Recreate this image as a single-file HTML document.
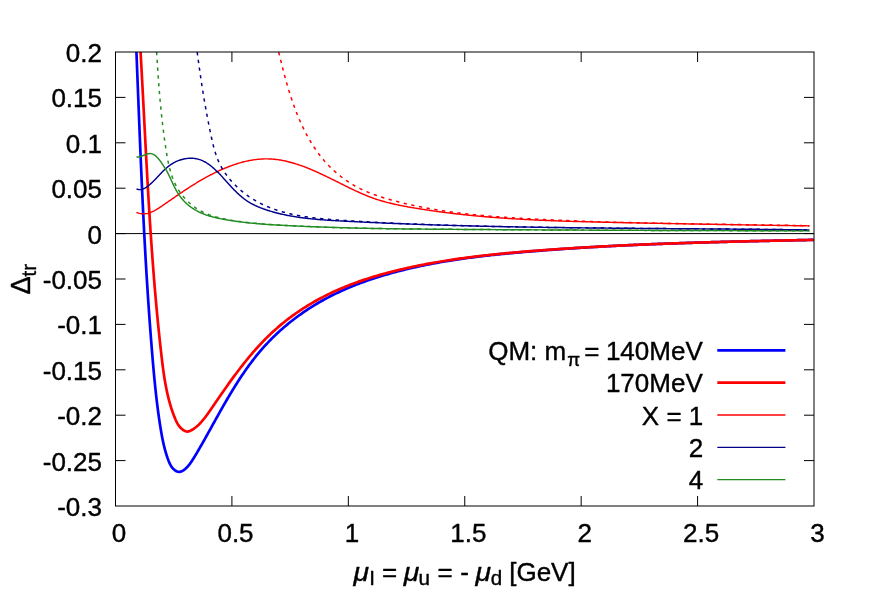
<!DOCTYPE html>
<html><head><meta charset="utf-8"><title>plot</title>
<style>html,body{margin:0;padding:0;background:#fff}body{width:872px;height:610px;position:relative;overflow:hidden;font-family:"Liberation Sans",sans-serif}</style>
</head><body>
<svg width="872" height="610" viewBox="0 0 872 610" style="position:absolute;left:0;top:0;will-change:transform">
<defs><clipPath id="c"><rect x="115.50" y="52.00" width="698.50" height="454.00"/></clipPath></defs>
<path d="M231.92,506.00 v-10 M231.92,52.00 v10 M348.33,506.00 v-10 M348.33,52.00 v10 M464.75,506.00 v-10 M464.75,52.00 v10 M581.17,506.00 v-10 M581.17,52.00 v10 M697.58,506.00 v-10 M697.58,52.00 v10 M115.50,97.40 h10 M814.00,97.40 h-10 M115.50,142.80 h10 M814.00,142.80 h-10 M115.50,188.20 h10 M814.00,188.20 h-10 M115.50,233.60 h10 M814.00,233.60 h-10 M115.50,279.00 h10 M814.00,279.00 h-10 M115.50,324.40 h10 M814.00,324.40 h-10 M115.50,369.80 h10 M814.00,369.80 h-10 M115.50,415.20 h10 M814.00,415.20 h-10 M115.50,460.60 h10 M814.00,460.60 h-10" stroke="#000" stroke-width="1" fill="none"/>
<path d="M115.50,233.60 H814.00" stroke="#000" stroke-width="1" fill="none"/>
<g clip-path="url(#c)" fill="none" stroke-linejoin="round">
<path d="M136.44,51.97 L136.50,53.62 L136.57,55.28 L136.64,56.93 L136.70,58.58 L136.77,60.24 L136.83,61.89 L136.90,63.54 L136.96,65.20 L137.03,66.85 L137.09,68.50 L137.16,70.15 L137.22,71.81 L137.29,73.46 L137.35,75.11 L137.42,76.76 L137.48,78.41 L137.55,80.07 L137.61,81.72 L137.68,83.37 L137.74,85.02 L137.81,86.67 L137.87,88.32 L137.94,89.97 L138.00,91.62 L138.07,93.27 L138.13,94.93 L138.20,96.58 L138.26,98.23 L138.33,99.88 L138.39,101.53 L138.46,103.18 L138.52,104.83 L138.59,106.48 L138.65,108.12 L138.72,109.77 L138.78,111.42 L138.85,113.07 L138.91,114.72 L138.98,116.37 L139.05,118.02 L139.11,119.67 L139.18,121.32 L139.24,122.97 L139.31,124.61 L139.38,126.26 L139.44,127.91 L139.51,129.56 L139.58,131.21 L139.64,132.85 L139.71,134.50 L139.78,136.15 L139.85,137.80 L139.91,139.45 L139.98,141.09 L140.05,142.74 L140.12,144.39 L140.19,146.03 L140.25,147.68 L140.32,149.33 L140.39,150.98 L140.46,152.62 L140.53,154.27 L140.60,155.92 L140.67,157.56 L140.74,159.21 L140.81,160.86 L140.88,162.50 L140.95,164.15 L141.02,165.80 L141.09,167.44 L141.17,169.09 L141.24,170.74 L141.31,172.38 L141.38,174.03 L141.45,175.67 L141.53,177.32 L141.60,178.97 L141.67,180.61 L141.75,182.26 L141.82,183.90 L141.90,185.55 L141.97,187.20 L142.05,188.84 L142.12,190.49 L142.20,192.13 L142.28,193.78 L142.35,195.42 L142.43,197.07 L142.51,198.72 L142.58,200.36 L142.66,202.01 L142.74,203.65 L142.82,205.30 L142.90,206.94 L142.98,208.59 L143.06,210.24 L143.14,211.88 L143.22,213.53 L143.30,215.17 L143.38,216.82 L143.47,218.46 L143.55,220.11 L143.63,221.75 L143.71,223.40 L143.80,225.04 L143.88,226.69 L143.97,228.34 L144.05,229.98 L144.14,231.63 L144.22,233.27 L144.31,234.92 L144.40,236.56 L144.49,238.21 L144.57,239.85 L144.66,241.50 L144.75,243.14 L144.84,244.79 L144.93,246.44 L145.02,248.08 L145.12,249.73 L145.21,251.37 L145.30,253.02 L145.39,254.66 L145.49,256.31 L145.58,257.96 L145.67,259.60 L145.77,261.25 L145.87,262.89 L145.96,264.54 L146.06,266.18 L146.16,267.83 L146.25,269.48 L146.35,271.12 L146.45,272.77 L146.55,274.42 L146.65,276.06 L146.75,277.71 L146.86,279.35 L146.96,281.00 L147.06,282.65 L147.17,284.29 L147.27,285.94 L147.38,287.59 L147.48,289.23 L147.59,290.88 L147.69,292.53 L147.80,294.17 L147.91,295.82 L148.02,297.47 L148.13,299.11 L148.24,300.76 L148.35,302.41 L148.46,304.06 L148.58,305.70 L148.69,307.35 L148.80,309.00 L148.92,310.65 L149.03,312.29 L149.15,313.94 L149.27,315.59 L149.39,317.24 L149.50,318.89 L149.62,320.53 L149.74,322.18 L149.86,323.83 L149.99,325.48 L150.11,327.13 L150.23,328.78 L150.36,330.43 L150.48,332.07 L150.61,333.72 L150.73,335.37 L150.86,337.02 L150.99,338.67 L151.12,340.32 L151.25,341.97 L151.38,343.62 L151.51,345.27 L151.64,346.92 L151.77,348.57 L151.91,350.22 L152.04,351.87 L152.18,353.52 L152.32,355.17 L152.45,356.82 L152.59,358.47 L152.73,360.12 L152.87,361.77 L153.01,363.42 L153.16,365.07 L153.30,366.72 L153.45,368.37 L153.60,370.02 L153.75,371.67 L153.90,373.32 L154.05,374.97 L154.20,376.62 L154.36,378.27 L154.52,379.91 L154.68,381.56 L154.85,383.20 L155.01,384.85 L155.18,386.49 L155.35,388.13 L155.52,389.78 L155.70,391.42 L155.88,393.06 L156.06,394.69 L156.24,396.33 L156.43,397.97 L156.62,399.60 L156.81,401.24 L157.01,402.87 L157.21,404.50 L157.41,406.13 L157.62,407.75 L157.83,409.38 L158.05,411.00 L158.26,412.63 L158.49,414.25 L158.71,415.87 L158.94,417.48 L159.18,419.10 L159.41,420.71 L159.66,422.32 L159.90,423.93 L160.15,425.54 L160.41,427.14 L160.67,428.74 L160.93,430.34 L161.20,431.94 L161.48,433.54 L161.77,435.13 L162.06,436.73 L162.37,438.32 L162.69,439.91 L163.02,441.51 L163.37,443.10 L163.73,444.70 L164.12,446.29 L164.51,447.89 L164.93,449.49 L165.37,451.09 L165.84,452.70 L166.32,454.30 L166.84,455.91 L167.37,457.53 L167.94,459.14 L168.54,460.76 L169.19,462.35 L169.91,463.90 L170.71,465.39 L171.61,466.81 L172.62,468.12 L173.76,469.33 L175.04,470.39 L176.43,471.22 L177.89,471.73 L179.38,471.83 L180.88,471.55 L182.36,470.95 L183.81,470.08 L185.20,469.02 L186.51,467.81 L187.72,466.53 L188.83,465.22 L189.84,463.88 L190.80,462.53 L191.72,461.16 L192.62,459.79 L193.50,458.41 L194.36,457.03 L195.22,455.64 L196.06,454.24 L196.90,452.83 L197.72,451.43 L198.55,450.01 L199.36,448.60 L200.18,447.18 L201.00,445.76 L201.81,444.34 L202.62,442.91 L203.43,441.48 L204.24,440.05 L205.04,438.62 L205.85,437.18 L206.65,435.75 L207.45,434.31 L208.25,432.87 L209.06,431.43 L209.86,429.99 L210.66,428.55 L211.46,427.10 L212.26,425.66 L213.06,424.21 L213.86,422.77 L214.66,421.32 L215.47,419.88 L216.27,418.43 L217.08,416.99 L217.88,415.54 L218.69,414.10 L219.50,412.65 L220.31,411.21 L221.12,409.77 L221.94,408.33 L222.76,406.89 L223.58,405.45 L224.40,404.01 L225.23,402.58 L226.06,401.15 L226.89,399.72 L227.72,398.29 L228.56,396.86 L229.41,395.44 L230.25,394.02 L231.10,392.60 L231.96,391.19 L232.82,389.77 L233.68,388.37 L234.55,386.96 L235.42,385.56 L236.30,384.16 L237.19,382.77 L238.08,381.38 L238.97,379.99 L239.87,378.61 L240.78,377.24 L241.69,375.86 L242.61,374.50 L243.54,373.14 L244.47,371.78 L245.41,370.43 L246.35,369.08 L247.31,367.74 L248.27,366.41 L249.23,365.08 L250.21,363.76 L251.19,362.44 L252.19,361.13 L253.18,359.83 L254.19,358.53 L255.21,357.24 L256.23,355.96 L257.27,354.68 L258.31,353.41 L259.36,352.15 L260.43,350.90 L261.50,349.65 L262.58,348.41 L263.67,347.18 L264.77,345.96 L265.88,344.75 L267.00,343.55 L268.13,342.35 L269.27,341.16 L270.42,339.98 L271.58,338.81 L272.75,337.65 L273.93,336.49 L275.11,335.35 L276.31,334.21 L277.51,333.08 L278.73,331.96 L279.95,330.85 L281.18,329.75 L282.42,328.66 L283.67,327.57 L284.92,326.50 L286.19,325.43 L287.46,324.38 L288.74,323.33 L290.03,322.29 L291.32,321.26 L292.63,320.24 L293.94,319.23 L295.26,318.23 L296.58,317.23 L297.91,316.25 L299.25,315.28 L300.60,314.31 L301.95,313.36 L303.31,312.41 L304.68,311.48 L306.05,310.55 L307.43,309.63 L308.82,308.73 L310.21,307.83 L311.61,306.94 L313.01,306.07 L314.42,305.20 L315.83,304.34 L317.26,303.49 L318.68,302.65 L320.11,301.83 L321.55,301.01 L322.99,300.20 L324.44,299.40 L325.89,298.62 L327.35,297.84 L328.81,297.07 L330.28,296.31 L331.75,295.57 L333.22,294.83 L334.70,294.10 L336.19,293.38 L337.67,292.67 L339.17,291.97 L340.66,291.28 L342.16,290.60 L343.67,289.92 L345.18,289.26 L346.69,288.60 L348.21,287.96 L349.73,287.32 L351.25,286.69 L352.78,286.07 L354.31,285.45 L355.84,284.85 L357.38,284.25 L358.92,283.66 L360.46,283.08 L362.01,282.51 L363.56,281.95 L365.11,281.39 L366.66,280.84 L368.22,280.30 L369.78,279.76 L371.34,279.23 L372.91,278.71 L374.47,278.20 L376.04,277.69 L377.61,277.20 L379.19,276.70 L380.76,276.22 L382.34,275.74 L383.92,275.26 L385.50,274.80 L387.08,274.34 L388.67,273.88 L390.25,273.44 L391.84,272.99 L393.43,272.56 L395.02,272.13 L396.61,271.71 L398.21,271.29 L399.80,270.88 L401.40,270.47 L402.99,270.07 L404.59,269.67 L406.19,269.28 L407.79,268.90 L409.39,268.52 L411.00,268.15 L412.60,267.78 L414.21,267.41 L415.82,267.06 L417.42,266.70 L419.03,266.36 L420.64,266.01 L422.26,265.68 L423.87,265.34 L425.48,265.01 L427.10,264.69 L428.71,264.37 L430.33,264.06 L431.95,263.75 L433.57,263.44 L435.19,263.14 L436.81,262.85 L438.43,262.56 L440.05,262.27 L441.68,261.99 L443.30,261.71 L444.93,261.43 L446.55,261.16 L448.18,260.90 L449.81,260.64 L451.44,260.38 L453.07,260.12 L454.70,259.87 L456.33,259.63 L457.96,259.38 L459.59,259.14 L461.23,258.91 L462.86,258.67 L464.50,258.44 L466.13,258.22 L467.77,258.00 L469.40,257.78 L471.04,257.56 L472.68,257.35 L474.32,257.14 L475.95,256.93 L477.59,256.73 L479.23,256.53 L480.87,256.33 L482.51,256.14 L484.16,255.94 L485.80,255.75 L487.44,255.57 L489.08,255.38 L490.72,255.20 L492.37,255.02 L494.01,254.85 L495.66,254.67 L497.30,254.50 L498.94,254.33 L500.59,254.16 L502.23,254.00 L503.88,253.83 L505.52,253.67 L507.17,253.51 L508.82,253.36 L510.46,253.20 L512.11,253.05 L513.75,252.90 L515.40,252.75 L517.05,252.60 L518.69,252.45 L520.34,252.30 L521.99,252.16 L523.63,252.02 L525.28,251.88 L526.93,251.74 L528.57,251.60 L530.22,251.46 L531.87,251.32 L533.51,251.19 L535.16,251.05 L536.81,250.92 L538.45,250.79 L540.10,250.66 L541.75,250.53 L543.39,250.40 L545.04,250.27 L546.69,250.15 L548.33,250.02 L549.98,249.90 L551.63,249.78 L553.27,249.66 L554.92,249.54 L556.57,249.42 L558.21,249.30 L559.86,249.19 L561.51,249.07 L563.15,248.96 L564.80,248.84 L566.45,248.73 L568.09,248.62 L569.74,248.51 L571.39,248.40 L573.03,248.29 L574.68,248.18 L576.33,248.08 L577.97,247.97 L579.62,247.87 L581.27,247.77 L582.91,247.67 L584.56,247.56 L586.21,247.47 L587.85,247.37 L589.50,247.27 L591.14,247.17 L592.79,247.08 L594.44,246.98 L596.08,246.89 L597.73,246.79 L599.38,246.70 L601.02,246.61 L602.67,246.52 L604.32,246.43 L605.96,246.34 L607.61,246.25 L609.26,246.17 L610.90,246.08 L612.55,246.00 L614.20,245.91 L615.85,245.83 L617.49,245.75 L619.14,245.67 L620.79,245.58 L622.43,245.50 L624.08,245.43 L625.73,245.35 L627.37,245.27 L629.02,245.19 L630.67,245.12 L632.31,245.04 L633.96,244.97 L635.61,244.89 L637.26,244.82 L638.90,244.75 L640.55,244.68 L642.20,244.61 L643.84,244.54 L645.49,244.47 L647.14,244.40 L648.79,244.33 L650.43,244.27 L652.08,244.20 L653.73,244.13 L655.37,244.07 L657.02,244.00 L658.67,243.94 L660.32,243.88 L661.96,243.82 L663.61,243.75 L665.26,243.69 L666.91,243.63 L668.55,243.57 L670.20,243.51 L671.85,243.45 L673.50,243.40 L675.14,243.34 L676.79,243.28 L678.44,243.23 L680.09,243.17 L681.74,243.12 L683.38,243.06 L685.03,243.01 L686.68,242.95 L688.33,242.90 L689.98,242.85 L691.62,242.80 L693.27,242.74 L694.92,242.69 L696.57,242.64 L698.22,242.59 L699.87,242.54 L701.51,242.49 L703.16,242.45 L704.81,242.40 L706.46,242.35 L708.11,242.30 L709.76,242.26 L711.40,242.21 L713.05,242.16 L714.70,242.12 L716.35,242.07 L718.00,242.03 L719.65,241.98 L721.30,241.94 L722.95,241.90 L724.60,241.85 L726.24,241.81 L727.89,241.77 L729.54,241.73 L731.19,241.68 L732.84,241.64 L734.49,241.60 L736.14,241.56 L737.79,241.52 L739.44,241.48 L741.09,241.44 L742.74,241.40 L744.39,241.36 L746.04,241.32 L747.69,241.28 L749.34,241.24 L750.99,241.21 L752.64,241.17 L754.29,241.13 L755.94,241.09 L757.59,241.05 L759.24,241.02 L760.89,240.98 L762.54,240.94 L764.19,240.91 L765.84,240.87 L767.49,240.83 L769.14,240.80 L770.79,240.76 L772.44,240.73 L774.09,240.69 L775.75,240.65 L777.40,240.62 L779.05,240.58 L780.70,240.55 L782.35,240.51 L784.00,240.48 L785.65,240.44 L787.30,240.41 L788.96,240.37 L790.61,240.34 L792.26,240.30 L793.91,240.27 L795.56,240.23 L797.21,240.20 L798.87,240.17 L800.52,240.13 L802.17,240.10 L803.82,240.06 L805.48,240.03 L807.13,239.99 L808.78,239.96 L810.43,239.92 L812.09,239.89 L813.74,239.86" stroke="#0000ff" stroke-width="2.7"/>
<path d="M140.56,52.02 L140.65,53.55 L140.74,55.09 L140.83,56.63 L140.91,58.17 L141.00,59.71 L141.08,61.25 L141.17,62.79 L141.26,64.33 L141.34,65.87 L141.43,67.40 L141.51,68.94 L141.59,70.48 L141.68,72.02 L141.76,73.56 L141.85,75.10 L141.93,76.64 L142.01,78.18 L142.10,79.72 L142.18,81.26 L142.26,82.80 L142.34,84.34 L142.43,85.88 L142.51,87.42 L142.59,88.96 L142.67,90.50 L142.75,92.04 L142.84,93.59 L142.92,95.13 L143.00,96.67 L143.08,98.21 L143.16,99.75 L143.24,101.29 L143.32,102.83 L143.40,104.37 L143.48,105.91 L143.56,107.45 L143.65,109.00 L143.73,110.54 L143.81,112.08 L143.89,113.62 L143.97,115.16 L144.05,116.70 L144.13,118.24 L144.21,119.79 L144.29,121.33 L144.37,122.87 L144.45,124.41 L144.53,125.95 L144.61,127.49 L144.69,129.04 L144.77,130.58 L144.85,132.12 L144.93,133.66 L145.02,135.20 L145.10,136.75 L145.18,138.29 L145.26,139.83 L145.34,141.37 L145.42,142.91 L145.50,144.46 L145.58,146.00 L145.67,147.54 L145.75,149.08 L145.83,150.63 L145.91,152.17 L146.00,153.71 L146.08,155.25 L146.16,156.79 L146.24,158.34 L146.33,159.88 L146.41,161.42 L146.50,162.96 L146.58,164.51 L146.66,166.05 L146.75,167.59 L146.83,169.13 L146.92,170.67 L147.00,172.22 L147.09,173.76 L147.17,175.30 L147.26,176.84 L147.35,178.39 L147.43,179.93 L147.52,181.47 L147.61,183.01 L147.70,184.56 L147.78,186.10 L147.87,187.64 L147.96,189.18 L148.05,190.72 L148.14,192.27 L148.23,193.81 L148.32,195.35 L148.41,196.89 L148.50,198.43 L148.59,199.98 L148.69,201.52 L148.78,203.06 L148.87,204.60 L148.97,206.14 L149.06,207.69 L149.15,209.23 L149.25,210.77 L149.34,212.31 L149.44,213.85 L149.54,215.39 L149.63,216.94 L149.73,218.48 L149.83,220.02 L149.93,221.56 L150.03,223.10 L150.12,224.64 L150.22,226.18 L150.33,227.73 L150.43,229.27 L150.53,230.81 L150.63,232.35 L150.73,233.89 L150.84,235.43 L150.94,236.97 L151.05,238.51 L151.15,240.05 L151.26,241.59 L151.36,243.13 L151.47,244.68 L151.58,246.22 L151.69,247.76 L151.80,249.30 L151.91,250.84 L152.02,252.38 L152.13,253.92 L152.24,255.46 L152.35,257.00 L152.47,258.54 L152.58,260.08 L152.70,261.62 L152.81,263.16 L152.93,264.70 L153.05,266.23 L153.17,267.77 L153.28,269.31 L153.40,270.85 L153.52,272.39 L153.65,273.93 L153.77,275.47 L153.89,277.01 L154.01,278.55 L154.14,280.08 L154.26,281.62 L154.39,283.16 L154.52,284.70 L154.65,286.24 L154.77,287.78 L154.90,289.31 L155.03,290.85 L155.17,292.39 L155.30,293.93 L155.43,295.46 L155.57,297.00 L155.70,298.54 L155.84,300.07 L155.98,301.61 L156.11,303.15 L156.25,304.69 L156.39,306.22 L156.53,307.76 L156.68,309.29 L156.82,310.83 L156.96,312.37 L157.11,313.90 L157.25,315.44 L157.40,316.97 L157.55,318.51 L157.70,320.04 L157.85,321.58 L158.00,323.11 L158.15,324.65 L158.31,326.18 L158.46,327.72 L158.62,329.25 L158.77,330.79 L158.93,332.32 L159.09,333.86 L159.25,335.39 L159.41,336.92 L159.57,338.46 L159.74,339.99 L159.90,341.52 L160.07,343.06 L160.23,344.59 L160.40,346.12 L160.57,347.65 L160.74,349.19 L160.91,350.72 L161.09,352.25 L161.26,353.78 L161.44,355.31 L161.61,356.84 L161.79,358.38 L161.97,359.91 L162.16,361.44 L162.34,362.97 L162.53,364.50 L162.73,366.03 L162.93,367.55 L163.13,369.08 L163.34,370.61 L163.55,372.13 L163.77,373.66 L163.99,375.18 L164.23,376.70 L164.46,378.22 L164.71,379.74 L164.97,381.26 L165.23,382.78 L165.50,384.29 L165.78,385.81 L166.07,387.32 L166.37,388.83 L166.68,390.34 L167.00,391.85 L167.34,393.35 L167.68,394.86 L168.04,396.36 L168.40,397.86 L168.78,399.35 L169.18,400.85 L169.59,402.34 L170.01,403.83 L170.45,405.32 L170.90,406.80 L171.36,408.28 L171.84,409.76 L172.34,411.24 L172.86,412.71 L173.39,414.18 L173.94,415.65 L174.50,417.12 L175.09,418.57 L175.71,420.02 L176.36,421.43 L177.07,422.81 L177.83,424.14 L178.67,425.42 L179.58,426.63 L180.57,427.76 L181.66,428.81 L182.86,429.76 L184.17,430.60 L185.57,431.25 L187.02,431.56 L188.46,431.43 L189.89,430.96 L191.27,430.29 L192.62,429.52 L193.93,428.68 L195.20,427.77 L196.43,426.79 L197.62,425.75 L198.78,424.67 L199.90,423.54 L200.99,422.37 L202.05,421.18 L203.07,419.97 L204.07,418.75 L205.04,417.52 L205.98,416.28 L206.91,415.04 L207.81,413.80 L208.69,412.56 L209.57,411.31 L210.43,410.06 L211.29,408.81 L212.14,407.56 L213.00,406.30 L213.85,405.05 L214.71,403.79 L215.56,402.53 L216.42,401.27 L217.29,400.01 L218.15,398.75 L219.02,397.49 L219.88,396.23 L220.76,394.97 L221.63,393.71 L222.50,392.45 L223.38,391.19 L224.26,389.93 L225.14,388.68 L226.03,387.42 L226.92,386.16 L227.81,384.91 L228.71,383.65 L229.61,382.40 L230.51,381.15 L231.41,379.90 L232.32,378.65 L233.23,377.41 L234.15,376.16 L235.07,374.92 L235.99,373.68 L236.92,372.45 L237.85,371.21 L238.79,369.98 L239.73,368.76 L240.67,367.53 L241.62,366.31 L242.57,365.10 L243.53,363.88 L244.50,362.67 L245.46,361.47 L246.44,360.27 L247.41,359.07 L248.40,357.88 L249.39,356.69 L250.38,355.50 L251.38,354.33 L252.38,353.15 L253.39,351.98 L254.41,350.82 L255.43,349.66 L256.46,348.51 L257.49,347.37 L258.53,346.22 L259.58,345.09 L260.63,343.96 L261.69,342.84 L262.75,341.73 L263.83,340.62 L264.90,339.51 L265.99,338.42 L267.08,337.33 L268.18,336.25 L269.29,335.18 L270.40,334.11 L271.52,333.06 L272.65,332.01 L273.78,330.96 L274.93,329.93 L276.08,328.90 L277.23,327.89 L278.40,326.88 L279.57,325.88 L280.75,324.89 L281.94,323.90 L283.14,322.93 L284.34,321.96 L285.55,321.00 L286.76,320.05 L287.99,319.11 L289.22,318.18 L290.45,317.25 L291.70,316.34 L292.95,315.43 L294.20,314.53 L295.46,313.64 L296.73,312.76 L298.01,311.88 L299.29,311.02 L300.57,310.16 L301.86,309.31 L303.16,308.47 L304.47,307.64 L305.77,306.81 L307.09,306.00 L308.41,305.19 L309.73,304.39 L311.06,303.60 L312.40,302.82 L313.74,302.04 L315.08,301.28 L316.43,300.52 L317.79,299.77 L319.15,299.03 L320.51,298.30 L321.88,297.58 L323.25,296.86 L324.63,296.16 L326.01,295.46 L327.39,294.77 L328.78,294.09 L330.17,293.41 L331.57,292.75 L332.97,292.09 L334.37,291.44 L335.78,290.80 L337.19,290.17 L338.60,289.55 L340.02,288.94 L341.44,288.33 L342.86,287.73 L344.29,287.14 L345.71,286.56 L347.15,285.98 L348.58,285.41 L350.02,284.85 L351.46,284.30 L352.90,283.75 L354.35,283.22 L355.80,282.69 L357.25,282.16 L358.70,281.64 L360.16,281.13 L361.61,280.63 L363.07,280.14 L364.54,279.65 L366.00,279.16 L367.47,278.69 L368.94,278.22 L370.41,277.75 L371.88,277.29 L373.36,276.84 L374.83,276.39 L376.31,275.95 L377.79,275.52 L379.28,275.09 L380.76,274.67 L382.25,274.25 L383.73,273.84 L385.22,273.43 L386.71,273.03 L388.20,272.64 L389.70,272.24 L391.19,271.86 L392.69,271.48 L394.18,271.10 L395.68,270.73 L397.18,270.36 L398.68,270.00 L400.18,269.64 L401.68,269.29 L403.18,268.94 L404.69,268.59 L406.19,268.25 L407.69,267.91 L409.20,267.58 L410.71,267.25 L412.21,266.92 L413.72,266.60 L415.23,266.29 L416.74,265.97 L418.25,265.67 L419.76,265.36 L421.27,265.06 L422.79,264.76 L424.30,264.47 L425.81,264.18 L427.33,263.89 L428.84,263.61 L430.36,263.33 L431.88,263.06 L433.40,262.78 L434.91,262.52 L436.43,262.25 L437.95,261.99 L439.47,261.73 L440.99,261.48 L442.51,261.23 L444.04,260.98 L445.56,260.73 L447.08,260.49 L448.61,260.25 L450.13,260.02 L451.66,259.79 L453.18,259.56 L454.71,259.33 L456.23,259.11 L457.76,258.89 L459.29,258.67 L460.82,258.46 L462.34,258.25 L463.87,258.04 L465.40,257.83 L466.93,257.63 L468.46,257.43 L469.99,257.23 L471.53,257.04 L473.06,256.85 L474.59,256.66 L476.12,256.47 L477.65,256.28 L479.19,256.10 L480.72,255.92 L482.26,255.74 L483.79,255.57 L485.33,255.39 L486.86,255.22 L488.40,255.06 L489.93,254.89 L491.47,254.72 L493.00,254.56 L494.54,254.40 L496.08,254.24 L497.61,254.09 L499.15,253.93 L500.69,253.78 L502.23,253.63 L503.77,253.48 L505.30,253.34 L506.84,253.19 L508.38,253.05 L509.92,252.91 L511.46,252.77 L513.00,252.63 L514.54,252.49 L516.08,252.36 L517.62,252.22 L519.16,252.09 L520.70,251.96 L522.24,251.83 L523.78,251.70 L525.32,251.58 L526.86,251.45 L528.40,251.33 L529.94,251.21 L531.48,251.08 L533.02,250.96 L534.56,250.84 L536.11,250.73 L537.65,250.61 L539.19,250.49 L540.73,250.38 L542.27,250.26 L543.81,250.15 L545.35,250.04 L546.89,249.92 L548.43,249.81 L549.97,249.70 L551.51,249.60 L553.06,249.49 L554.60,249.38 L556.14,249.27 L557.68,249.17 L559.22,249.06 L560.76,248.96 L562.30,248.86 L563.84,248.76 L565.38,248.65 L566.92,248.55 L568.47,248.46 L570.01,248.36 L571.55,248.26 L573.09,248.16 L574.63,248.07 L576.17,247.97 L577.71,247.88 L579.25,247.78 L580.79,247.69 L582.33,247.60 L583.87,247.51 L585.42,247.42 L586.96,247.33 L588.50,247.24 L590.04,247.15 L591.58,247.06 L593.12,246.98 L594.66,246.89 L596.20,246.81 L597.74,246.72 L599.29,246.64 L600.83,246.55 L602.37,246.47 L603.91,246.39 L605.45,246.31 L606.99,246.23 L608.53,246.15 L610.07,246.07 L611.61,246.00 L613.16,245.92 L614.70,245.84 L616.24,245.77 L617.78,245.69 L619.32,245.62 L620.86,245.54 L622.40,245.47 L623.94,245.40 L625.49,245.33 L627.03,245.25 L628.57,245.18 L630.11,245.11 L631.65,245.04 L633.19,244.98 L634.73,244.91 L636.27,244.84 L637.82,244.77 L639.36,244.71 L640.90,244.64 L642.44,244.58 L643.98,244.51 L645.52,244.45 L647.07,244.39 L648.61,244.32 L650.15,244.26 L651.69,244.20 L653.23,244.14 L654.77,244.08 L656.31,244.02 L657.86,243.96 L659.40,243.90 L660.94,243.84 L662.48,243.79 L664.02,243.73 L665.56,243.67 L667.11,243.62 L668.65,243.56 L670.19,243.51 L671.73,243.45 L673.27,243.40 L674.82,243.34 L676.36,243.29 L677.90,243.24 L679.44,243.19 L680.98,243.14 L682.53,243.08 L684.07,243.03 L685.61,242.98 L687.15,242.93 L688.69,242.88 L690.24,242.84 L691.78,242.79 L693.32,242.74 L694.86,242.69 L696.41,242.64 L697.95,242.60 L699.49,242.55 L701.03,242.51 L702.58,242.46 L704.12,242.41 L705.66,242.37 L707.20,242.33 L708.74,242.28 L710.29,242.24 L711.83,242.19 L713.37,242.15 L714.92,242.11 L716.46,242.07 L718.00,242.03 L719.54,241.98 L721.09,241.94 L722.63,241.90 L724.17,241.86 L725.71,241.82 L727.26,241.78 L728.80,241.74 L730.34,241.70 L731.89,241.66 L733.43,241.63 L734.97,241.59 L736.52,241.55 L738.06,241.51 L739.60,241.47 L741.15,241.44 L742.69,241.40 L744.23,241.36 L745.78,241.33 L747.32,241.29 L748.86,241.25 L750.41,241.22 L751.95,241.18 L753.49,241.15 L755.04,241.11 L756.58,241.08 L758.12,241.04 L759.67,241.01 L761.21,240.97 L762.75,240.94 L764.30,240.91 L765.84,240.87 L767.39,240.84 L768.93,240.81 L770.47,240.77 L772.02,240.74 L773.56,240.71 L775.11,240.67 L776.65,240.64 L778.19,240.61 L779.74,240.58 L781.28,240.55 L782.83,240.51 L784.37,240.48 L785.92,240.45 L787.46,240.42 L789.01,240.39 L790.55,240.36 L792.09,240.32 L793.64,240.29 L795.18,240.26 L796.73,240.23 L798.27,240.20 L799.82,240.17 L801.36,240.14 L802.91,240.11 L804.45,240.08 L806.00,240.05 L807.54,240.02 L809.09,239.99 L810.63,239.96 L812.18,239.93 L813.72,239.90" stroke="#ff0000" stroke-width="2.7"/>
<path d="M136.47,212.40 L137.48,212.81 L138.47,213.14 L139.47,213.41 L140.45,213.61 L141.43,213.75 L142.40,213.83 L143.37,213.85 L144.33,213.82 L145.28,213.74 L146.23,213.61 L147.17,213.43 L148.11,213.20 L149.04,212.94 L149.96,212.63 L150.88,212.29 L151.79,211.92 L152.69,211.51 L153.59,211.08 L154.49,210.62 L155.38,210.14 L156.26,209.63 L157.14,209.11 L158.01,208.57 L158.88,208.02 L159.74,207.46 L160.60,206.89 L161.45,206.32 L162.30,205.74 L163.14,205.17 L163.98,204.59 L164.81,204.02 L165.64,203.45 L166.46,202.88 L167.28,202.31 L168.10,201.75 L168.92,201.18 L169.73,200.62 L170.54,200.06 L171.35,199.50 L172.15,198.94 L172.95,198.39 L173.76,197.83 L174.56,197.28 L175.36,196.73 L176.16,196.17 L176.96,195.62 L177.76,195.08 L178.56,194.53 L179.36,193.98 L180.16,193.44 L180.97,192.89 L181.77,192.35 L182.58,191.81 L183.39,191.27 L184.20,190.72 L185.01,190.18 L185.83,189.65 L186.65,189.11 L187.47,188.57 L188.30,188.03 L189.13,187.50 L189.96,186.96 L190.80,186.43 L191.64,185.89 L192.48,185.36 L193.33,184.83 L194.18,184.30 L195.04,183.78 L195.89,183.25 L196.75,182.73 L197.62,182.21 L198.48,181.69 L199.35,181.18 L200.23,180.66 L201.10,180.15 L201.98,179.64 L202.86,179.14 L203.75,178.64 L204.64,178.14 L205.53,177.64 L206.42,177.15 L207.31,176.66 L208.21,176.18 L209.11,175.70 L210.02,175.22 L210.92,174.75 L211.83,174.28 L212.74,173.82 L213.65,173.36 L214.57,172.90 L215.48,172.45 L216.40,172.01 L217.32,171.57 L218.25,171.13 L219.17,170.71 L220.10,170.28 L221.03,169.86 L221.96,169.45 L222.89,169.04 L223.83,168.64 L224.76,168.25 L225.70,167.86 L226.64,167.48 L227.58,167.10 L228.53,166.73 L229.47,166.37 L230.42,166.01 L231.36,165.66 L232.31,165.32 L233.26,164.99 L234.21,164.66 L235.17,164.34 L236.12,164.03 L237.08,163.72 L238.03,163.43 L238.99,163.14 L239.95,162.86 L240.91,162.59 L241.86,162.32 L242.83,162.07 L243.79,161.82 L244.75,161.59 L245.71,161.36 L246.68,161.14 L247.64,160.93 L248.61,160.73 L249.57,160.54 L250.54,160.36 L251.50,160.18 L252.47,160.02 L253.44,159.87 L254.40,159.73 L255.37,159.60 L256.34,159.48 L257.31,159.36 L258.28,159.26 L259.24,159.18 L260.21,159.10 L261.18,159.03 L262.15,158.97 L263.12,158.93 L264.08,158.90 L265.05,158.87 L266.02,158.86 L266.99,158.87 L267.95,158.88 L268.92,158.91 L269.89,158.94 L270.85,158.99 L271.82,159.05 L272.78,159.13 L273.75,159.21 L274.71,159.30 L275.67,159.41 L276.64,159.53 L277.60,159.65 L278.56,159.79 L279.52,159.94 L280.48,160.09 L281.44,160.26 L282.40,160.44 L283.36,160.62 L284.32,160.82 L285.28,161.02 L286.23,161.24 L287.19,161.46 L288.15,161.69 L289.10,161.93 L290.06,162.18 L291.01,162.44 L291.96,162.70 L292.92,162.97 L293.87,163.25 L294.82,163.54 L295.77,163.84 L296.72,164.14 L297.67,164.45 L298.62,164.76 L299.57,165.09 L300.51,165.42 L301.46,165.75 L302.41,166.09 L303.35,166.44 L304.29,166.79 L305.24,167.15 L306.18,167.52 L307.12,167.89 L308.06,168.26 L309.00,168.64 L309.94,169.03 L310.88,169.42 L311.81,169.81 L312.75,170.21 L313.68,170.62 L314.62,171.02 L315.55,171.43 L316.48,171.85 L317.41,172.27 L318.34,172.69 L319.27,173.11 L320.20,173.54 L321.13,173.97 L322.06,174.40 L322.98,174.84 L323.90,175.28 L324.83,175.72 L325.75,176.16 L326.67,176.60 L327.59,177.05 L328.51,177.50 L329.43,177.94 L330.34,178.39 L331.26,178.84 L332.17,179.30 L333.08,179.75 L334.00,180.20 L334.91,180.65 L335.82,181.11 L336.72,181.56 L337.63,182.01 L338.54,182.47 L339.44,182.92 L340.34,183.37 L341.25,183.82 L342.15,184.27 L343.05,184.72 L343.94,185.17 L344.84,185.61 L345.74,186.06 L346.63,186.50 L347.52,186.94 L348.42,187.38 L349.31,187.81 L350.20,188.25 L351.09,188.68 L351.99,189.11 L352.88,189.54 L353.77,189.96 L354.66,190.38 L355.55,190.80 L356.44,191.21 L357.33,191.62 L358.23,192.03 L359.12,192.44 L360.02,192.84 L360.91,193.23 L361.81,193.63 L362.71,194.02 L363.60,194.40 L364.51,194.78 L365.41,195.16 L366.31,195.53 L367.22,195.89 L368.12,196.25 L369.03,196.61 L369.95,196.96 L370.86,197.31 L371.78,197.65 L372.69,197.98 L373.62,198.31 L374.54,198.64 L375.47,198.95 L376.40,199.26 L377.33,199.57 L378.27,199.87 L379.21,200.16 L380.15,200.45 L381.09,200.74 L382.04,201.02 L382.98,201.29 L383.93,201.56 L384.89,201.82 L385.84,202.08 L386.80,202.33 L387.76,202.58 L388.72,202.83 L389.69,203.07 L390.65,203.30 L391.62,203.53 L392.59,203.76 L393.56,203.98 L394.53,204.20 L395.50,204.42 L396.48,204.63 L397.45,204.84 L398.43,205.05 L399.41,205.25 L400.39,205.45 L401.37,205.65 L402.36,205.84 L403.34,206.03 L404.32,206.22 L405.31,206.40 L406.29,206.58 L407.28,206.76 L408.27,206.94 L409.26,207.12 L410.25,207.29 L411.23,207.46 L412.22,207.63 L413.21,207.80 L414.20,207.97 L415.19,208.13 L416.18,208.29 L417.17,208.46 L418.16,208.62 L419.15,208.78 L420.14,208.93 L421.13,209.09 L422.12,209.25 L423.11,209.40 L424.11,209.55 L425.10,209.70 L426.09,209.85 L427.08,210.00 L428.07,210.15 L429.06,210.30 L430.05,210.44 L431.04,210.59 L432.03,210.73 L433.02,210.87 L434.01,211.01 L435.00,211.15 L436.00,211.29 L436.99,211.42 L437.98,211.56 L438.97,211.69 L439.96,211.83 L440.95,211.96 L441.94,212.09 L442.93,212.22 L443.93,212.34 L444.92,212.47 L445.91,212.60 L446.90,212.72 L447.89,212.85 L448.88,212.97 L449.88,213.09 L450.87,213.21 L451.86,213.33 L452.85,213.45 L453.84,213.56 L454.84,213.68 L455.83,213.79 L456.82,213.91 L457.81,214.02 L458.80,214.13 L459.80,214.24 L460.79,214.35 L461.78,214.46 L462.77,214.56 L463.77,214.67 L464.76,214.78 L465.75,214.88 L466.74,214.98 L467.74,215.08 L468.73,215.19 L469.72,215.29 L470.71,215.38 L471.71,215.48 L472.70,215.58 L473.69,215.68 L474.68,215.77 L475.68,215.86 L476.67,215.96 L477.66,216.05 L478.66,216.14 L479.65,216.23 L480.64,216.32 L481.64,216.41 L482.63,216.50 L483.62,216.58 L484.62,216.67 L485.61,216.75 L486.60,216.84 L487.60,216.92 L488.59,217.00 L489.58,217.08 L490.58,217.16 L491.57,217.24 L492.56,217.32 L493.56,217.40 L494.55,217.47 L495.54,217.55 L496.54,217.63 L497.53,217.70 L498.53,217.77 L499.52,217.85 L500.51,217.92 L501.51,217.99 L502.50,218.06 L503.49,218.13 L504.49,218.20 L505.48,218.27 L506.48,218.33 L507.47,218.40 L508.47,218.47 L509.46,218.53 L510.45,218.59 L511.45,218.66 L512.44,218.72 L513.44,218.78 L514.43,218.84 L515.43,218.90 L516.42,218.96 L517.41,219.02 L518.41,219.08 L519.40,219.14 L520.40,219.20 L521.39,219.25 L522.39,219.31 L523.38,219.36 L524.38,219.42 L525.37,219.47 L526.37,219.53 L527.36,219.58 L528.36,219.63 L529.35,219.68 L530.34,219.73 L531.34,219.78 L532.33,219.83 L533.33,219.88 L534.32,219.93 L535.32,219.98 L536.31,220.02 L537.31,220.07 L538.30,220.11 L539.30,220.16 L540.30,220.20 L541.29,220.25 L542.29,220.29 L543.28,220.34 L544.28,220.38 L545.27,220.42 L546.27,220.46 L547.26,220.50 L548.26,220.54 L549.25,220.58 L550.25,220.62 L551.24,220.66 L552.24,220.70 L553.23,220.74 L554.23,220.78 L555.23,220.81 L556.22,220.85 L557.22,220.89 L558.21,220.92 L559.21,220.96 L560.20,220.99 L561.20,221.03 L562.20,221.06 L563.19,221.10 L564.19,221.13 L565.18,221.16 L566.18,221.20 L567.17,221.23 L568.17,221.26 L569.17,221.29 L570.16,221.32 L571.16,221.35 L572.15,221.38 L573.15,221.41 L574.15,221.44 L575.14,221.47 L576.14,221.50 L577.13,221.53 L578.13,221.56 L579.13,221.59 L580.12,221.61 L581.12,221.64 L582.11,221.67 L583.11,221.70 L584.11,221.72 L585.10,221.75 L586.10,221.78 L587.10,221.80 L588.09,221.83 L589.09,221.85 L590.08,221.88 L591.08,221.90 L592.08,221.93 L593.07,221.95 L594.07,221.98 L595.07,222.00 L596.06,222.02 L597.06,222.05 L598.06,222.07 L599.05,222.09 L600.05,222.12 L601.05,222.14 L602.04,222.16 L603.04,222.19 L604.03,222.21 L605.03,222.23 L606.03,222.25 L607.02,222.28 L608.02,222.30 L609.02,222.32 L610.01,222.34 L611.01,222.36 L612.01,222.38 L613.00,222.41 L614.00,222.43 L615.00,222.45 L615.99,222.47 L616.99,222.49 L617.99,222.51 L618.98,222.53 L619.98,222.55 L620.98,222.58 L621.98,222.60 L622.97,222.62 L623.97,222.64 L624.97,222.66 L625.96,222.68 L626.96,222.70 L627.96,222.72 L628.95,222.74 L629.95,222.76 L630.95,222.78 L631.94,222.80 L632.94,222.82 L633.94,222.85 L634.93,222.87 L635.93,222.89 L636.93,222.91 L637.93,222.93 L638.92,222.95 L639.92,222.97 L640.92,222.99 L641.91,223.01 L642.91,223.03 L643.91,223.05 L644.90,223.07 L645.90,223.09 L646.90,223.11 L647.90,223.13 L648.89,223.15 L649.89,223.17 L650.89,223.19 L651.88,223.21 L652.88,223.23 L653.88,223.25 L654.88,223.27 L655.87,223.29 L656.87,223.31 L657.87,223.33 L658.86,223.35 L659.86,223.36 L660.86,223.38 L661.85,223.40 L662.85,223.42 L663.85,223.44 L664.85,223.46 L665.84,223.48 L666.84,223.50 L667.84,223.52 L668.84,223.54 L669.83,223.56 L670.83,223.58 L671.83,223.60 L672.82,223.61 L673.82,223.63 L674.82,223.65 L675.82,223.67 L676.81,223.69 L677.81,223.71 L678.81,223.73 L679.80,223.75 L680.80,223.77 L681.80,223.78 L682.80,223.80 L683.79,223.82 L684.79,223.84 L685.79,223.86 L686.78,223.88 L687.78,223.90 L688.78,223.91 L689.78,223.93 L690.77,223.95 L691.77,223.97 L692.77,223.99 L693.76,224.00 L694.76,224.02 L695.76,224.04 L696.76,224.06 L697.75,224.08 L698.75,224.10 L699.75,224.11 L700.75,224.13 L701.74,224.15 L702.74,224.17 L703.74,224.19 L704.73,224.20 L705.73,224.22 L706.73,224.24 L707.73,224.26 L708.72,224.27 L709.72,224.29 L710.72,224.31 L711.71,224.33 L712.71,224.34 L713.71,224.36 L714.71,224.38 L715.70,224.40 L716.70,224.41 L717.70,224.43 L718.69,224.45 L719.69,224.47 L720.69,224.48 L721.69,224.50 L722.68,224.52 L723.68,224.53 L724.68,224.55 L725.67,224.57 L726.67,224.59 L727.67,224.60 L728.66,224.62 L729.66,224.64 L730.66,224.65 L731.66,224.67 L732.65,224.69 L733.65,224.70 L734.65,224.72 L735.64,224.74 L736.64,224.75 L737.64,224.77 L738.64,224.79 L739.63,224.80 L740.63,224.82 L741.63,224.84 L742.62,224.85 L743.62,224.87 L744.62,224.89 L745.61,224.90 L746.61,224.92 L747.61,224.94 L748.60,224.95 L749.60,224.97 L750.60,224.98 L751.59,225.00 L752.59,225.02 L753.59,225.03 L754.59,225.05 L755.58,225.06 L756.58,225.08 L757.58,225.10 L758.57,225.11 L759.57,225.13 L760.57,225.14 L761.56,225.16 L762.56,225.18 L763.56,225.19 L764.55,225.21 L765.55,225.22 L766.55,225.24 L767.54,225.25 L768.54,225.27 L769.54,225.28 L770.53,225.30 L771.53,225.32 L772.53,225.33 L773.52,225.35 L774.52,225.36 L775.52,225.38 L776.51,225.39 L777.51,225.41 L778.50,225.42 L779.50,225.44 L780.50,225.45 L781.49,225.47 L782.49,225.48 L783.49,225.50 L784.48,225.51 L785.48,225.53 L786.48,225.54 L787.47,225.56 L788.47,225.57 L789.46,225.59 L790.46,225.60 L791.46,225.62 L792.45,225.63 L793.45,225.65 L794.45,225.66 L795.44,225.68 L796.44,225.69 L797.43,225.71 L798.43,225.72 L799.43,225.73 L800.42,225.75 L801.42,225.76 L802.41,225.78 L803.41,225.79 L804.41,225.81 L805.40,225.82 L806.40,225.84 L807.39,225.85 L808.39,225.86 L809.39,225.88" stroke="#ff0000" stroke-width="1.45"/>
<path d="M136.50,188.90 L137.49,189.29 L138.47,189.53 L139.43,189.63 L140.38,189.60 L141.31,189.47 L142.22,189.23 L143.12,188.91 L144.01,188.52 L144.88,188.07 L145.73,187.57 L146.57,187.03 L147.40,186.46 L148.22,185.85 L149.02,185.21 L149.81,184.55 L150.59,183.86 L151.37,183.15 L152.13,182.42 L152.88,181.69 L153.63,180.94 L154.36,180.18 L155.10,179.43 L155.82,178.67 L156.54,177.92 L157.25,177.16 L157.96,176.41 L158.67,175.66 L159.38,174.92 L160.08,174.18 L160.78,173.45 L161.49,172.72 L162.20,172.01 L162.91,171.30 L163.62,170.60 L164.34,169.91 L165.07,169.24 L165.80,168.57 L166.54,167.92 L167.28,167.28 L168.04,166.66 L168.80,166.06 L169.58,165.47 L170.37,164.89 L171.17,164.34 L171.99,163.81 L172.82,163.29 L173.66,162.80 L174.53,162.33 L175.41,161.88 L176.30,161.45 L177.22,161.05 L178.15,160.68 L179.09,160.32 L180.04,160.00 L181.01,159.70 L181.98,159.43 L182.96,159.18 L183.95,158.96 L184.95,158.77 L185.95,158.61 L186.95,158.47 L187.95,158.37 L188.96,158.30 L189.96,158.25 L190.97,158.24 L191.97,158.26 L192.96,158.32 L193.95,158.40 L194.93,158.52 L195.90,158.67 L196.87,158.86 L197.82,159.08 L198.76,159.33 L199.69,159.62 L200.61,159.94 L201.52,160.30 L202.41,160.68 L203.30,161.09 L204.18,161.53 L205.04,162.00 L205.90,162.49 L206.74,163.00 L207.58,163.54 L208.41,164.10 L209.23,164.69 L210.04,165.29 L210.84,165.91 L211.63,166.54 L212.42,167.20 L213.20,167.86 L213.97,168.55 L214.73,169.24 L215.49,169.95 L216.24,170.66 L216.98,171.39 L217.72,172.12 L218.45,172.86 L219.17,173.61 L219.89,174.36 L220.60,175.11 L221.31,175.87 L222.02,176.62 L222.72,177.38 L223.42,178.15 L224.11,178.91 L224.80,179.67 L225.49,180.43 L226.18,181.20 L226.86,181.96 L227.55,182.72 L228.23,183.48 L228.91,184.23 L229.60,184.98 L230.28,185.73 L230.97,186.48 L231.65,187.22 L232.34,187.96 L233.04,188.69 L233.73,189.42 L234.43,190.14 L235.13,190.85 L235.83,191.56 L236.54,192.26 L237.26,192.95 L237.98,193.64 L238.71,194.31 L239.44,194.98 L240.18,195.64 L240.93,196.28 L241.68,196.92 L242.44,197.54 L243.22,198.15 L244.00,198.76 L244.78,199.34 L245.58,199.92 L246.39,200.48 L247.21,201.03 L248.04,201.57 L248.88,202.09 L249.73,202.60 L250.59,203.10 L251.46,203.58 L252.33,204.05 L253.22,204.51 L254.11,204.96 L255.01,205.40 L255.92,205.83 L256.83,206.24 L257.75,206.65 L258.68,207.04 L259.61,207.43 L260.54,207.80 L261.49,208.17 L262.43,208.53 L263.38,208.88 L264.34,209.22 L265.29,209.55 L266.26,209.87 L267.22,210.19 L268.19,210.50 L269.16,210.80 L270.13,211.10 L271.10,211.39 L272.07,211.67 L273.04,211.95 L274.02,212.22 L275.00,212.48 L275.97,212.74 L276.95,212.99 L277.93,213.24 L278.91,213.48 L279.89,213.72 L280.87,213.95 L281.85,214.17 L282.83,214.39 L283.81,214.61 L284.80,214.82 L285.78,215.02 L286.77,215.22 L287.75,215.42 L288.74,215.61 L289.73,215.80 L290.71,215.98 L291.70,216.15 L292.69,216.33 L293.68,216.49 L294.67,216.66 L295.66,216.82 L296.65,216.97 L297.65,217.12 L298.64,217.27 L299.63,217.41 L300.63,217.55 L301.62,217.69 L302.62,217.82 L303.61,217.95 L304.61,218.07 L305.60,218.20 L306.60,218.31 L307.60,218.43 L308.59,218.54 L309.59,218.65 L310.59,218.76 L311.59,218.86 L312.59,218.96 L313.59,219.06 L314.59,219.15 L315.59,219.24 L316.59,219.33 L317.59,219.42 L318.59,219.51 L319.59,219.59 L320.60,219.67 L321.60,219.75 L322.60,219.83 L323.60,219.90 L324.61,219.97 L325.61,220.04 L326.61,220.11 L327.62,220.18 L328.62,220.25 L329.63,220.31 L330.63,220.38 L331.64,220.44 L332.64,220.50 L333.64,220.56 L334.65,220.62 L335.65,220.68 L336.66,220.73 L337.66,220.79 L338.67,220.85 L339.68,220.90 L340.68,220.95 L341.69,221.01 L342.69,221.06 L343.70,221.12 L344.70,221.17 L345.71,221.22 L346.71,221.27 L347.72,221.33 L348.72,221.38 L349.73,221.43 L350.73,221.48 L351.74,221.53 L352.74,221.58 L353.75,221.63 L354.76,221.68 L355.76,221.73 L356.77,221.78 L357.77,221.83 L358.78,221.88 L359.78,221.93 L360.79,221.98 L361.79,222.03 L362.80,222.08 L363.80,222.13 L364.81,222.17 L365.82,222.22 L366.82,222.27 L367.83,222.31 L368.83,222.36 L369.84,222.41 L370.84,222.45 L371.85,222.50 L372.85,222.55 L373.86,222.59 L374.86,222.64 L375.87,222.68 L376.87,222.73 L377.88,222.77 L378.89,222.81 L379.89,222.86 L380.90,222.90 L381.90,222.95 L382.91,222.99 L383.91,223.03 L384.92,223.07 L385.92,223.12 L386.93,223.16 L387.94,223.20 L388.94,223.24 L389.95,223.28 L390.95,223.33 L391.96,223.37 L392.96,223.41 L393.97,223.45 L394.97,223.49 L395.98,223.53 L396.98,223.57 L397.99,223.61 L399.00,223.65 L400.00,223.69 L401.01,223.73 L402.01,223.77 L403.02,223.80 L404.02,223.84 L405.03,223.88 L406.03,223.92 L407.04,223.96 L408.05,223.99 L409.05,224.03 L410.06,224.07 L411.06,224.10 L412.07,224.14 L413.07,224.18 L414.08,224.21 L415.08,224.25 L416.09,224.28 L417.10,224.32 L418.10,224.36 L419.11,224.39 L420.11,224.43 L421.12,224.46 L422.12,224.49 L423.13,224.53 L424.13,224.56 L425.14,224.60 L426.15,224.63 L427.15,224.66 L428.16,224.70 L429.16,224.73 L430.17,224.76 L431.17,224.79 L432.18,224.83 L433.18,224.86 L434.19,224.89 L435.20,224.92 L436.20,224.95 L437.21,224.99 L438.21,225.02 L439.22,225.05 L440.22,225.08 L441.23,225.11 L442.24,225.14 L443.24,225.17 L444.25,225.20 L445.25,225.23 L446.26,225.26 L447.26,225.29 L448.27,225.32 L449.27,225.35 L450.28,225.38 L451.29,225.40 L452.29,225.43 L453.30,225.46 L454.30,225.49 L455.31,225.52 L456.31,225.54 L457.32,225.57 L458.33,225.60 L459.33,225.63 L460.34,225.65 L461.34,225.68 L462.35,225.71 L463.35,225.73 L464.36,225.76 L465.37,225.79 L466.37,225.81 L467.38,225.84 L468.38,225.86 L469.39,225.89 L470.39,225.91 L471.40,225.94 L472.41,225.96 L473.41,225.99 L474.42,226.01 L475.42,226.04 L476.43,226.06 L477.43,226.09 L478.44,226.11 L479.44,226.13 L480.45,226.16 L481.46,226.18 L482.46,226.20 L483.47,226.23 L484.47,226.25 L485.48,226.27 L486.49,226.30 L487.49,226.32 L488.50,226.34 L489.50,226.36 L490.51,226.39 L491.51,226.41 L492.52,226.43 L493.53,226.45 L494.53,226.47 L495.54,226.49 L496.54,226.51 L497.55,226.54 L498.55,226.56 L499.56,226.58 L500.57,226.60 L501.57,226.62 L502.58,226.64 L503.58,226.66 L504.59,226.68 L505.59,226.70 L506.60,226.72 L507.61,226.74 L508.61,226.76 L509.62,226.78 L510.62,226.79 L511.63,226.81 L512.63,226.83 L513.64,226.85 L514.65,226.87 L515.65,226.89 L516.66,226.91 L517.66,226.92 L518.67,226.94 L519.68,226.96 L520.68,226.98 L521.69,227.00 L522.69,227.01 L523.70,227.03 L524.70,227.05 L525.71,227.06 L526.72,227.08 L527.72,227.10 L528.73,227.12 L529.73,227.13 L530.74,227.15 L531.74,227.17 L532.75,227.18 L533.76,227.20 L534.76,227.21 L535.77,227.23 L536.77,227.25 L537.78,227.26 L538.79,227.28 L539.79,227.29 L540.80,227.31 L541.80,227.32 L542.81,227.34 L543.81,227.35 L544.82,227.37 L545.83,227.38 L546.83,227.40 L547.84,227.41 L548.84,227.43 L549.85,227.44 L550.86,227.45 L551.86,227.47 L552.87,227.48 L553.87,227.50 L554.88,227.51 L555.89,227.52 L556.89,227.54 L557.90,227.55 L558.90,227.56 L559.91,227.58 L560.91,227.59 L561.92,227.60 L562.93,227.62 L563.93,227.63 L564.94,227.64 L565.94,227.66 L566.95,227.67 L567.96,227.68 L568.96,227.69 L569.97,227.71 L570.97,227.72 L571.98,227.73 L572.99,227.74 L573.99,227.75 L575.00,227.77 L576.00,227.78 L577.01,227.79 L578.01,227.80 L579.02,227.81 L580.03,227.82 L581.03,227.84 L582.04,227.85 L583.04,227.86 L584.05,227.87 L585.06,227.88 L586.06,227.89 L587.07,227.90 L588.07,227.91 L589.08,227.92 L590.09,227.94 L591.09,227.95 L592.10,227.96 L593.10,227.97 L594.11,227.98 L595.12,227.99 L596.12,228.00 L597.13,228.01 L598.13,228.02 L599.14,228.03 L600.14,228.04 L601.15,228.05 L602.16,228.06 L603.16,228.07 L604.17,228.08 L605.17,228.09 L606.18,228.10 L607.19,228.11 L608.19,228.12 L609.20,228.13 L610.20,228.14 L611.21,228.15 L612.22,228.16 L613.22,228.16 L614.23,228.17 L615.23,228.18 L616.24,228.19 L617.25,228.20 L618.25,228.21 L619.26,228.22 L620.26,228.23 L621.27,228.24 L622.28,228.25 L623.28,228.25 L624.29,228.26 L625.29,228.27 L626.30,228.28 L627.31,228.29 L628.31,228.30 L629.32,228.31 L630.32,228.31 L631.33,228.32 L632.34,228.33 L633.34,228.34 L634.35,228.35 L635.35,228.36 L636.36,228.36 L637.37,228.37 L638.37,228.38 L639.38,228.39 L640.38,228.40 L641.39,228.41 L642.40,228.41 L643.40,228.42 L644.41,228.43 L645.41,228.44 L646.42,228.45 L647.43,228.45 L648.43,228.46 L649.44,228.47 L650.44,228.48 L651.45,228.48 L652.46,228.49 L653.46,228.50 L654.47,228.51 L655.47,228.52 L656.48,228.52 L657.49,228.53 L658.49,228.54 L659.50,228.55 L660.50,228.55 L661.51,228.56 L662.52,228.57 L663.52,228.58 L664.53,228.58 L665.53,228.59 L666.54,228.60 L667.55,228.61 L668.55,228.61 L669.56,228.62 L670.56,228.63 L671.57,228.64 L672.58,228.64 L673.58,228.65 L674.59,228.66 L675.59,228.67 L676.60,228.67 L677.61,228.68 L678.61,228.69 L679.62,228.70 L680.62,228.70 L681.63,228.71 L682.64,228.72 L683.64,228.73 L684.65,228.73 L685.65,228.74 L686.66,228.75 L687.67,228.76 L688.67,228.76 L689.68,228.77 L690.68,228.78 L691.69,228.79 L692.70,228.79 L693.70,228.80 L694.71,228.81 L695.71,228.82 L696.72,228.82 L697.73,228.83 L698.73,228.84 L699.74,228.85 L700.75,228.85 L701.75,228.86 L702.76,228.87 L703.76,228.88 L704.77,228.89 L705.78,228.89 L706.78,228.90 L707.79,228.91 L708.79,228.92 L709.80,228.92 L710.81,228.93 L711.81,228.94 L712.82,228.95 L713.82,228.96 L714.83,228.96 L715.84,228.97 L716.84,228.98 L717.85,228.99 L718.85,229.00 L719.86,229.00 L720.87,229.01 L721.87,229.02 L722.88,229.03 L723.88,229.04 L724.89,229.04 L725.90,229.05 L726.90,229.06 L727.91,229.07 L728.92,229.08 L729.92,229.09 L730.93,229.10 L731.93,229.10 L732.94,229.11 L733.95,229.12 L734.95,229.13 L735.96,229.14 L736.96,229.15 L737.97,229.16 L738.98,229.16 L739.98,229.17 L740.99,229.18 L741.99,229.19 L743.00,229.20 L744.01,229.21 L745.01,229.22 L746.02,229.23 L747.02,229.24 L748.03,229.25 L749.04,229.26 L750.04,229.27 L751.05,229.28 L752.06,229.28 L753.06,229.29 L754.07,229.30 L755.07,229.31 L756.08,229.32 L757.09,229.33 L758.09,229.34 L759.10,229.35 L760.10,229.36 L761.11,229.37 L762.12,229.38 L763.12,229.39 L764.13,229.40 L765.13,229.41 L766.14,229.42 L767.15,229.44 L768.15,229.45 L769.16,229.46 L770.17,229.47 L771.17,229.48 L772.18,229.49 L773.18,229.50 L774.19,229.51 L775.20,229.52 L776.20,229.53 L777.21,229.54 L778.21,229.56 L779.22,229.57 L780.23,229.58 L781.23,229.59 L782.24,229.60 L783.24,229.61 L784.25,229.63 L785.26,229.64 L786.26,229.65 L787.27,229.66 L788.28,229.67 L789.28,229.69 L790.29,229.70 L791.29,229.71 L792.30,229.72 L793.31,229.74 L794.31,229.75 L795.32,229.76 L796.32,229.77 L797.33,229.79 L798.34,229.80 L799.34,229.81 L800.35,229.83 L801.36,229.84 L802.36,229.85 L803.37,229.87 L804.37,229.88 L805.38,229.90 L806.39,229.91 L807.39,229.92 L808.40,229.94 L809.40,229.95" stroke="#00008b" stroke-width="1.45"/>
<path d="M136.53,156.82 L137.47,156.94 L138.41,156.92 L139.38,156.79 L140.35,156.57 L141.32,156.27 L142.31,155.92 L143.30,155.54 L144.28,155.14 L145.27,154.74 L146.25,154.38 L147.23,154.05 L148.20,153.80 L149.16,153.63 L150.10,153.57 L151.03,153.63 L151.94,153.83 L152.83,154.14 L153.70,154.57 L154.56,155.10 L155.39,155.72 L156.21,156.41 L157.00,157.17 L157.77,157.99 L158.52,158.85 L159.25,159.74 L159.95,160.66 L160.63,161.59 L161.28,162.52 L161.91,163.44 L162.52,164.34 L163.10,165.21 L163.65,166.04 L164.18,166.85 L164.69,167.63 L165.18,168.41 L165.65,169.17 L166.12,169.94 L166.57,170.72 L167.02,171.51 L167.45,172.33 L167.89,173.15 L168.32,174.00 L168.74,174.85 L169.16,175.72 L169.58,176.60 L170.00,177.50 L170.42,178.40 L170.84,179.30 L171.26,180.22 L171.69,181.14 L172.11,182.06 L172.54,182.99 L172.98,183.92 L173.42,184.85 L173.87,185.77 L174.32,186.70 L174.79,187.62 L175.26,188.54 L175.74,189.45 L176.23,190.35 L176.74,191.25 L177.26,192.14 L177.79,193.01 L178.34,193.88 L178.90,194.73 L179.47,195.56 L180.07,196.38 L180.67,197.19 L181.30,197.98 L181.93,198.76 L182.59,199.53 L183.25,200.27 L183.93,201.01 L184.63,201.73 L185.33,202.43 L186.05,203.12 L186.78,203.80 L187.53,204.46 L188.29,205.10 L189.06,205.73 L189.84,206.34 L190.63,206.94 L191.43,207.52 L192.25,208.09 L193.07,208.64 L193.91,209.18 L194.75,209.70 L195.61,210.20 L196.47,210.69 L197.34,211.16 L198.23,211.62 L199.12,212.06 L200.02,212.48 L200.92,212.89 L201.84,213.29 L202.76,213.67 L203.69,214.04 L204.63,214.39 L205.57,214.74 L206.52,215.07 L207.47,215.39 L208.43,215.69 L209.40,215.99 L210.37,216.28 L211.34,216.55 L212.32,216.82 L213.30,217.08 L214.29,217.32 L215.28,217.56 L216.27,217.80 L217.26,218.02 L218.26,218.24 L219.26,218.45 L220.26,218.65 L221.26,218.85 L222.27,219.04 L223.27,219.23 L224.27,219.42 L225.28,219.60 L226.28,219.77 L227.29,219.94 L228.29,220.11 L229.30,220.28 L230.30,220.44 L231.30,220.60 L232.31,220.75 L233.31,220.90 L234.32,221.05 L235.32,221.20 L236.32,221.34 L237.33,221.48 L238.33,221.61 L239.33,221.74 L240.34,221.87 L241.34,222.00 L242.34,222.12 L243.35,222.24 L244.35,222.36 L245.35,222.47 L246.36,222.59 L247.36,222.70 L248.36,222.80 L249.37,222.91 L250.37,223.01 L251.37,223.11 L252.37,223.21 L253.38,223.30 L254.38,223.40 L255.38,223.49 L256.39,223.58 L257.39,223.66 L258.39,223.75 L259.39,223.83 L260.40,223.91 L261.40,223.99 L262.40,224.07 L263.41,224.15 L264.41,224.22 L265.41,224.29 L266.41,224.36 L267.42,224.43 L268.42,224.50 L269.42,224.57 L270.43,224.63 L271.43,224.70 L272.43,224.76 L273.43,224.82 L274.44,224.88 L275.44,224.94 L276.44,225.00 L277.45,225.06 L278.45,225.12 L279.45,225.17 L280.46,225.23 L281.46,225.28 L282.46,225.34 L283.47,225.39 L284.47,225.44 L285.47,225.50 L286.48,225.55 L287.48,225.60 L288.49,225.65 L289.49,225.70 L290.49,225.75 L291.50,225.80 L292.50,225.85 L293.51,225.90 L294.51,225.95 L295.51,225.99 L296.52,226.04 L297.52,226.09 L298.53,226.13 L299.53,226.18 L300.54,226.22 L301.54,226.27 L302.55,226.31 L303.55,226.36 L304.56,226.40 L305.56,226.44 L306.56,226.48 L307.57,226.53 L308.57,226.57 L309.58,226.61 L310.58,226.65 L311.59,226.69 L312.60,226.73 L313.60,226.77 L314.61,226.81 L315.61,226.84 L316.62,226.88 L317.62,226.92 L318.63,226.96 L319.63,226.99 L320.64,227.03 L321.64,227.07 L322.65,227.10 L323.66,227.14 L324.66,227.17 L325.67,227.21 L326.67,227.24 L327.68,227.27 L328.69,227.31 L329.69,227.34 L330.70,227.37 L331.70,227.40 L332.71,227.44 L333.72,227.47 L334.72,227.50 L335.73,227.53 L336.73,227.56 L337.74,227.59 L338.75,227.62 L339.75,227.65 L340.76,227.68 L341.77,227.71 L342.77,227.73 L343.78,227.76 L344.79,227.79 L345.79,227.82 L346.80,227.84 L347.81,227.87 L348.81,227.89 L349.82,227.92 L350.83,227.95 L351.84,227.97 L352.84,228.00 L353.85,228.02 L354.86,228.04 L355.86,228.07 L356.87,228.09 L357.88,228.12 L358.88,228.14 L359.89,228.16 L360.90,228.18 L361.91,228.21 L362.91,228.23 L363.92,228.25 L364.93,228.27 L365.94,228.29 L366.94,228.31 L367.95,228.33 L368.96,228.35 L369.97,228.37 L370.97,228.39 L371.98,228.41 L372.99,228.43 L374.00,228.45 L375.00,228.47 L376.01,228.48 L377.02,228.50 L378.03,228.52 L379.03,228.54 L380.04,228.55 L381.05,228.57 L382.06,228.59 L383.07,228.61 L384.07,228.62 L385.08,228.64 L386.09,228.65 L387.10,228.67 L388.11,228.68 L389.11,228.70 L390.12,228.71 L391.13,228.73 L392.14,228.74 L393.15,228.76 L394.15,228.77 L395.16,228.79 L396.17,228.80 L397.18,228.81 L398.19,228.83 L399.19,228.84 L400.20,228.85 L401.21,228.87 L402.22,228.88 L403.23,228.89 L404.24,228.90 L405.24,228.92 L406.25,228.93 L407.26,228.94 L408.27,228.95 L409.28,228.96 L410.28,228.97 L411.29,228.98 L412.30,229.00 L413.31,229.01 L414.32,229.02 L415.33,229.03 L416.34,229.04 L417.34,229.05 L418.35,229.06 L419.36,229.07 L420.37,229.08 L421.38,229.09 L422.39,229.10 L423.39,229.11 L424.40,229.12 L425.41,229.13 L426.42,229.13 L427.43,229.14 L428.44,229.15 L429.44,229.16 L430.45,229.17 L431.46,229.18 L432.47,229.19 L433.48,229.20 L434.49,229.20 L435.50,229.21 L436.50,229.22 L437.51,229.23 L438.52,229.24 L439.53,229.24 L440.54,229.25 L441.55,229.26 L442.55,229.27 L443.56,229.27 L444.57,229.28 L445.58,229.29 L446.59,229.30 L447.60,229.30 L448.61,229.31 L449.61,229.32 L450.62,229.33 L451.63,229.33 L452.64,229.34 L453.65,229.35 L454.66,229.36 L455.66,229.36 L456.67,229.37 L457.68,229.38 L458.69,229.38 L459.70,229.39 L460.71,229.40 L461.71,229.40 L462.72,229.41 L463.73,229.42 L464.74,229.42 L465.75,229.43 L466.76,229.44 L467.76,229.45 L468.77,229.45 L469.78,229.46 L470.79,229.47 L471.80,229.47 L472.81,229.48 L473.81,229.49 L474.82,229.49 L475.83,229.50 L476.84,229.51 L477.85,229.51 L478.86,229.52 L479.86,229.53 L480.87,229.53 L481.88,229.54 L482.89,229.55 L483.90,229.55 L484.90,229.56 L485.91,229.57 L486.92,229.57 L487.93,229.58 L488.94,229.58 L489.94,229.59 L490.95,229.60 L491.96,229.60 L492.97,229.61 L493.98,229.62 L494.99,229.62 L495.99,229.63 L497.00,229.64 L498.01,229.64 L499.02,229.65 L500.03,229.65 L501.03,229.66 L502.04,229.67 L503.05,229.67 L504.06,229.68 L505.07,229.69 L506.07,229.69 L507.08,229.70 L508.09,229.70 L509.10,229.71 L510.11,229.72 L511.11,229.72 L512.12,229.73 L513.13,229.74 L514.14,229.74 L515.14,229.75 L516.15,229.75 L517.16,229.76 L518.17,229.77 L519.18,229.77 L520.18,229.78 L521.19,229.78 L522.20,229.79 L523.21,229.79 L524.22,229.80 L525.22,229.81 L526.23,229.81 L527.24,229.82 L528.25,229.82 L529.26,229.83 L530.26,229.84 L531.27,229.84 L532.28,229.85 L533.29,229.85 L534.29,229.86 L535.30,229.86 L536.31,229.87 L537.32,229.88 L538.33,229.88 L539.33,229.89 L540.34,229.89 L541.35,229.90 L542.36,229.90 L543.36,229.91 L544.37,229.91 L545.38,229.92 L546.39,229.93 L547.40,229.93 L548.40,229.94 L549.41,229.94 L550.42,229.95 L551.43,229.95 L552.43,229.96 L553.44,229.96 L554.45,229.97 L555.46,229.97 L556.46,229.98 L557.47,229.98 L558.48,229.99 L559.49,229.99 L560.50,230.00 L561.50,230.01 L562.51,230.01 L563.52,230.02 L564.53,230.02 L565.53,230.03 L566.54,230.03 L567.55,230.04 L568.56,230.04 L569.56,230.05 L570.57,230.05 L571.58,230.06 L572.59,230.06 L573.60,230.07 L574.60,230.07 L575.61,230.08 L576.62,230.08 L577.63,230.09 L578.63,230.09 L579.64,230.10 L580.65,230.10 L581.66,230.11 L582.66,230.11 L583.67,230.12 L584.68,230.12 L585.69,230.13 L586.69,230.13 L587.70,230.13 L588.71,230.14 L589.72,230.14 L590.72,230.15 L591.73,230.15 L592.74,230.16 L593.75,230.16 L594.76,230.17 L595.76,230.17 L596.77,230.18 L597.78,230.18 L598.79,230.19 L599.79,230.19 L600.80,230.20 L601.81,230.20 L602.82,230.20 L603.82,230.21 L604.83,230.21 L605.84,230.22 L606.85,230.22 L607.85,230.23 L608.86,230.23 L609.87,230.24 L610.88,230.24 L611.88,230.24 L612.89,230.25 L613.90,230.25 L614.91,230.26 L615.91,230.26 L616.92,230.27 L617.93,230.27 L618.94,230.27 L619.94,230.28 L620.95,230.28 L621.96,230.29 L622.97,230.29 L623.97,230.29 L624.98,230.30 L625.99,230.30 L627.00,230.31 L628.00,230.31 L629.01,230.31 L630.02,230.32 L631.03,230.32 L632.03,230.33 L633.04,230.33 L634.05,230.33 L635.06,230.34 L636.07,230.34 L637.07,230.35 L638.08,230.35 L639.09,230.35 L640.10,230.36 L641.10,230.36 L642.11,230.37 L643.12,230.37 L644.13,230.37 L645.13,230.38 L646.14,230.38 L647.15,230.38 L648.16,230.39 L649.16,230.39 L650.17,230.40 L651.18,230.40 L652.19,230.40 L653.19,230.41 L654.20,230.41 L655.21,230.41 L656.22,230.42 L657.22,230.42 L658.23,230.42 L659.24,230.43 L660.25,230.43 L661.25,230.43 L662.26,230.44 L663.27,230.44 L664.28,230.44 L665.28,230.45 L666.29,230.45 L667.30,230.45 L668.31,230.46 L669.31,230.46 L670.32,230.46 L671.33,230.47 L672.34,230.47 L673.35,230.47 L674.35,230.48 L675.36,230.48 L676.37,230.48 L677.38,230.49 L678.38,230.49 L679.39,230.49 L680.40,230.50 L681.41,230.50 L682.41,230.50 L683.42,230.51 L684.43,230.51 L685.44,230.51 L686.44,230.51 L687.45,230.52 L688.46,230.52 L689.47,230.52 L690.47,230.53 L691.48,230.53 L692.49,230.53 L693.50,230.53 L694.51,230.54 L695.51,230.54 L696.52,230.54 L697.53,230.55 L698.54,230.55 L699.54,230.55 L700.55,230.55 L701.56,230.56 L702.57,230.56 L703.57,230.56 L704.58,230.56 L705.59,230.57 L706.60,230.57 L707.61,230.57 L708.61,230.58 L709.62,230.58 L710.63,230.58 L711.64,230.58 L712.64,230.59 L713.65,230.59 L714.66,230.59 L715.67,230.59 L716.67,230.60 L717.68,230.60 L718.69,230.60 L719.70,230.60 L720.71,230.60 L721.71,230.61 L722.72,230.61 L723.73,230.61 L724.74,230.61 L725.74,230.62 L726.75,230.62 L727.76,230.62 L728.77,230.62 L729.78,230.63 L730.78,230.63 L731.79,230.63 L732.80,230.63 L733.81,230.63 L734.82,230.64 L735.82,230.64 L736.83,230.64 L737.84,230.64 L738.85,230.64 L739.85,230.65 L740.86,230.65 L741.87,230.65 L742.88,230.65 L743.89,230.65 L744.89,230.66 L745.90,230.66 L746.91,230.66 L747.92,230.66 L748.93,230.66 L749.93,230.66 L750.94,230.67 L751.95,230.67 L752.96,230.67 L753.97,230.67 L754.97,230.67 L755.98,230.68 L756.99,230.68 L758.00,230.68 L759.01,230.68 L760.01,230.68 L761.02,230.68 L762.03,230.69 L763.04,230.69 L764.05,230.69 L765.05,230.69 L766.06,230.69 L767.07,230.69 L768.08,230.69 L769.09,230.70 L770.09,230.70 L771.10,230.70 L772.11,230.70 L773.12,230.70 L774.13,230.70 L775.13,230.70 L776.14,230.71 L777.15,230.71 L778.16,230.71 L779.17,230.71 L780.17,230.71 L781.18,230.71 L782.19,230.71 L783.20,230.71 L784.21,230.72 L785.22,230.72 L786.22,230.72 L787.23,230.72 L788.24,230.72 L789.25,230.72 L790.26,230.72 L791.27,230.72 L792.27,230.72 L793.28,230.72 L794.29,230.73 L795.30,230.73 L796.31,230.73 L797.31,230.73 L798.32,230.73 L799.33,230.73 L800.34,230.73 L801.35,230.73 L802.36,230.73 L803.36,230.73 L804.37,230.73 L805.38,230.74 L806.39,230.74 L807.40,230.74 L808.41,230.74 L809.42,230.74" stroke="#228b22" stroke-width="1.45"/>
<path d="M278.70,52.18 L278.91,53.02 L279.11,53.86 L279.32,54.69 L279.52,55.53 L279.73,56.38 L279.93,57.22 L280.14,58.06 L280.35,58.90 L280.56,59.75 L280.77,60.59 L280.98,61.43 L281.19,62.28 L281.40,63.12 L281.61,63.97 L281.82,64.82 L282.04,65.66 L282.25,66.51 L282.47,67.36 L282.69,68.20 L282.90,69.05 L283.12,69.90 L283.34,70.75 L283.56,71.60 L283.79,72.45 L284.01,73.30 L284.24,74.15 L284.46,75.00 L284.69,75.85 L284.92,76.70 L285.15,77.54 L285.38,78.39 L285.62,79.24 L285.85,80.09 L286.09,80.94 L286.33,81.79 L286.57,82.64 L286.81,83.49 L287.06,84.34 L287.30,85.19 L287.55,86.04 L287.80,86.89 L288.05,87.73 L288.30,88.58 L288.56,89.43 L288.82,90.28 L289.07,91.12 L289.34,91.97 L289.60,92.82 L289.86,93.66 L290.13,94.51 L290.40,95.35 L290.67,96.20 L290.95,97.04 L291.23,97.88 L291.50,98.72 L291.79,99.57 L292.07,100.41 L292.36,101.25 L292.65,102.09 L292.94,102.92 L293.23,103.76 L293.53,104.60 L293.83,105.44 L294.13,106.27 L294.43,107.11 L294.74,107.94 L295.05,108.77 L295.37,109.60 L295.68,110.44 L296.00,111.27 L296.32,112.09 L296.65,112.92 L296.98,113.75 L297.31,114.57 L297.64,115.40 L297.98,116.22 L298.32,117.05 L298.66,117.87 L299.01,118.69 L299.36,119.50 L299.72,120.32 L300.07,121.14 L300.43,121.95 L300.80,122.76 L301.17,123.58 L301.54,124.39 L301.91,125.20 L302.29,126.00 L302.67,126.81 L303.06,127.61 L303.45,128.42 L303.84,129.22 L304.24,130.02 L304.64,130.81 L305.04,131.61 L305.45,132.40 L305.86,133.20 L306.28,133.99 L306.70,134.77 L307.12,135.56 L307.55,136.34 L307.98,137.12 L308.41,137.90 L308.85,138.68 L309.30,139.45 L309.74,140.22 L310.20,140.99 L310.65,141.75 L311.11,142.52 L311.58,143.28 L312.05,144.03 L312.52,144.79 L313.00,145.54 L313.48,146.28 L313.96,147.03 L314.45,147.77 L314.95,148.51 L315.45,149.24 L315.95,149.97 L316.46,150.70 L316.97,151.42 L317.49,152.14 L318.01,152.86 L318.53,153.57 L319.06,154.28 L319.60,154.99 L320.14,155.69 L320.68,156.38 L321.23,157.08 L321.78,157.77 L322.34,158.45 L322.90,159.13 L323.47,159.80 L324.04,160.48 L324.62,161.14 L325.20,161.80 L325.79,162.46 L326.38,163.11 L326.98,163.76 L327.58,164.41 L328.19,165.04 L328.80,165.68 L329.41,166.31 L330.03,166.93 L330.66,167.55 L331.29,168.16 L331.92,168.77 L332.56,169.38 L333.20,169.98 L333.85,170.57 L334.50,171.16 L335.16,171.75 L335.82,172.33 L336.48,172.90 L337.15,173.47 L337.82,174.04 L338.50,174.60 L339.18,175.15 L339.86,175.70 L340.55,176.24 L341.24,176.78 L341.94,177.31 L342.64,177.84 L343.35,178.36 L344.06,178.88 L344.77,179.39 L345.49,179.90 L346.21,180.40 L346.93,180.90 L347.66,181.39 L348.39,181.87 L349.12,182.35 L349.86,182.82 L350.60,183.29 L351.35,183.75 L352.10,184.21 L352.85,184.66 L353.61,185.10 L354.37,185.54 L355.13,185.98 L355.90,186.40 L356.67,186.83 L357.44,187.24 L358.22,187.65 L359.00,188.06 L359.78,188.45 L360.56,188.85 L361.35,189.23 L362.14,189.61 L362.94,189.99 L363.74,190.36 L364.54,190.72 L365.34,191.08 L366.15,191.43 L366.96,191.77 L367.77,192.12 L368.58,192.45 L369.40,192.78 L370.22,193.11 L371.04,193.43 L371.86,193.74 L372.69,194.05 L373.51,194.36 L374.34,194.66 L375.18,194.96 L376.01,195.25 L376.84,195.54 L377.68,195.83 L378.52,196.11 L379.36,196.39 L380.20,196.66 L381.04,196.94 L381.89,197.20 L382.73,197.47 L383.58,197.73 L384.43,197.99 L385.27,198.24 L386.12,198.49 L386.97,198.74 L387.82,198.99 L388.68,199.23 L389.53,199.47 L390.38,199.71 L391.24,199.95 L392.09,200.19 L392.94,200.42 L393.80,200.65 L394.65,200.88 L395.51,201.10 L396.36,201.33 L397.22,201.55 L398.08,201.77 L398.93,201.99 L399.79,202.21 L400.65,202.42 L401.51,202.64 L402.37,202.85 L403.22,203.06 L404.08,203.27 L404.94,203.47 L405.80,203.68 L406.66,203.88 L407.52,204.08 L408.38,204.28 L409.25,204.47 L410.11,204.67 L410.97,204.86 L411.83,205.05 L412.69,205.24 L413.56,205.43 L414.42,205.61 L415.28,205.80 L416.15,205.98 L417.01,206.16 L417.88,206.34 L418.74,206.51 L419.61,206.69 L420.47,206.86 L421.34,207.03 L422.20,207.20 L423.07,207.37 L423.94,207.54 L424.80,207.70 L425.67,207.87 L426.54,208.03 L427.41,208.19 L428.27,208.35 L429.14,208.51 L430.01,208.66 L430.88,208.82 L431.75,208.97 L432.62,209.12 L433.49,209.27 L434.36,209.42 L435.23,209.56 L436.10,209.71 L436.97,209.85 L437.84,209.99 L438.71,210.13 L439.58,210.27 L440.46,210.41 L441.33,210.55 L442.20,210.68 L443.07,210.81 L443.95,210.95 L444.82,211.08 L445.69,211.20 L446.57,211.33 L447.44,211.46 L448.31,211.58 L449.19,211.71 L450.06,211.83 L450.94,211.95 L451.81,212.07 L452.69,212.19 L453.56,212.31 L454.44,212.42 L455.31,212.54 L456.19,212.65 L457.06,212.76 L457.94,212.87 L458.82,212.98 L459.69,213.09 L460.57,213.20 L461.45,213.31 L462.32,213.41 L463.20,213.51 L464.08,213.62 L464.96,213.72 L465.84,213.82 L466.71,213.92 L467.59,214.02 L468.47,214.11 L469.35,214.21 L470.23,214.30 L471.11,214.40 L471.99,214.49 L472.87,214.58 L473.74,214.67 L474.62,214.76 L475.50,214.85 L476.38,214.94 L477.26,215.03 L478.14,215.11 L479.02,215.20 L479.90,215.28 L480.79,215.36 L481.67,215.45 L482.55,215.53 L483.43,215.61 L484.31,215.69 L485.19,215.76 L486.07,215.84 L486.95,215.92 L487.83,215.99 L488.72,216.07 L489.60,216.14 L490.48,216.22 L491.36,216.29 L492.24,216.36 L493.13,216.43 L494.01,216.50 L494.89,216.57 L495.77,216.64 L496.66,216.71 L497.54,216.77 L498.42,216.84 L499.30,216.90 L500.19,216.97 L501.07,217.03 L501.95,217.10 L502.84,217.16 L503.72,217.22 L504.60,217.28 L505.49,217.34 L506.37,217.40 L507.25,217.46 L508.14,217.52 L509.02,217.58 L509.90,217.64 L510.79,217.70 L511.67,217.75 L512.55,217.81 L513.44,217.86 L514.32,217.92 L515.21,217.97 L516.09,218.03 L516.97,218.08 L517.86,218.13 L518.74,218.19 L519.63,218.24 L520.51,218.29 L521.39,218.34 L522.28,218.39 L523.16,218.44 L524.05,218.49 L524.93,218.54 L525.81,218.59 L526.70,218.64 L527.58,218.69 L528.47,218.73 L529.35,218.78 L530.23,218.83 L531.12,218.88 L532.00,218.92 L532.89,218.97 L533.77,219.01 L534.65,219.06 L535.54,219.11 L536.42,219.15 L537.31,219.19 L538.19,219.24 L539.07,219.28 L539.96,219.33 L540.84,219.37 L541.73,219.41 L542.61,219.46 L543.49,219.50 L544.38,219.54 L545.26,219.59 L546.14,219.63 L547.03,219.67 L547.91,219.71 L548.80,219.75 L549.68,219.79 L550.56,219.83 L551.45,219.87 L552.33,219.91 L553.21,219.95 L554.10,219.99 L554.98,220.03 L555.87,220.07 L556.75,220.11 L557.63,220.15 L558.52,220.19 L559.40,220.23 L560.28,220.27 L561.17,220.30 L562.05,220.34 L562.93,220.38 L563.82,220.41 L564.70,220.45 L565.58,220.49 L566.47,220.52 L567.35,220.56 L568.23,220.60 L569.12,220.63 L570.00,220.67 L570.88,220.70 L571.77,220.74 L572.65,220.77 L573.53,220.81 L574.42,220.84 L575.30,220.87 L576.18,220.91 L577.07,220.94 L577.95,220.97 L578.83,221.01 L579.72,221.04 L580.60,221.07 L581.48,221.11 L582.37,221.14 L583.25,221.17 L584.13,221.20 L585.02,221.23 L585.90,221.26 L586.78,221.29 L587.66,221.33 L588.55,221.36 L589.43,221.39 L590.31,221.42 L591.20,221.45 L592.08,221.48 L592.96,221.51 L593.85,221.54 L594.73,221.57 L595.61,221.59 L596.50,221.62 L597.38,221.65 L598.26,221.68 L599.14,221.71 L600.03,221.74 L600.91,221.76 L601.79,221.79 L602.68,221.82 L603.56,221.85 L604.44,221.87 L605.33,221.90 L606.21,221.93 L607.09,221.96 L607.97,221.98 L608.86,222.01 L609.74,222.03 L610.62,222.06 L611.51,222.09 L612.39,222.11 L613.27,222.14 L614.15,222.16 L615.04,222.19 L615.92,222.21 L616.80,222.24 L617.69,222.26 L618.57,222.29 L619.45,222.31 L620.33,222.33 L621.22,222.36 L622.10,222.38 L622.98,222.40 L623.87,222.43 L624.75,222.45 L625.63,222.47 L626.51,222.50 L627.40,222.52 L628.28,222.54 L629.16,222.56 L630.05,222.59 L630.93,222.61 L631.81,222.63 L632.69,222.65 L633.58,222.68 L634.46,222.70 L635.34,222.72 L636.23,222.74 L637.11,222.76 L637.99,222.78 L638.87,222.80 L639.76,222.82 L640.64,222.84 L641.52,222.86 L642.41,222.88 L643.29,222.90 L644.17,222.93 L645.05,222.95 L645.94,222.96 L646.82,222.98 L647.70,223.00 L648.58,223.02 L649.47,223.04 L650.35,223.06 L651.23,223.08 L652.12,223.10 L653.00,223.12 L653.88,223.14 L654.76,223.16 L655.65,223.18 L656.53,223.19 L657.41,223.21 L658.30,223.23 L659.18,223.25 L660.06,223.27 L660.94,223.28 L661.83,223.30 L662.71,223.32 L663.59,223.34 L664.48,223.35 L665.36,223.37 L666.24,223.39 L667.12,223.41 L668.01,223.42 L668.89,223.44 L669.77,223.46 L670.66,223.47 L671.54,223.49 L672.42,223.51 L673.30,223.52 L674.19,223.54 L675.07,223.56 L675.95,223.57 L676.84,223.59 L677.72,223.61 L678.60,223.62 L679.49,223.64 L680.37,223.65 L681.25,223.67 L682.13,223.68 L683.02,223.70 L683.90,223.72 L684.78,223.73 L685.67,223.75 L686.55,223.76 L687.43,223.78 L688.32,223.79 L689.20,223.81 L690.08,223.82 L690.96,223.84 L691.85,223.85 L692.73,223.87 L693.61,223.88 L694.50,223.90 L695.38,223.91 L696.26,223.93 L697.15,223.94 L698.03,223.96 L698.91,223.97 L699.80,223.98 L700.68,224.00 L701.56,224.01 L702.45,224.03 L703.33,224.04 L704.21,224.06 L705.10,224.07 L705.98,224.08 L706.86,224.10 L707.75,224.11 L708.63,224.13 L709.51,224.14 L710.40,224.15 L711.28,224.17 L712.16,224.18 L713.05,224.20 L713.93,224.21 L714.81,224.22 L715.70,224.24 L716.58,224.25 L717.46,224.26 L718.35,224.28 L719.23,224.29 L720.11,224.31 L721.00,224.32 L721.88,224.33 L722.76,224.35 L723.65,224.36 L724.53,224.37 L725.41,224.39 L726.30,224.40 L727.18,224.41 L728.06,224.43 L728.95,224.44 L729.83,224.45 L730.72,224.47 L731.60,224.48 L732.48,224.49 L733.37,224.51 L734.25,224.52 L735.13,224.53 L736.02,224.55 L736.90,224.56 L737.79,224.57 L738.67,224.59 L739.55,224.60 L740.44,224.61 L741.32,224.63 L742.20,224.64 L743.09,224.65 L743.97,224.67 L744.86,224.68 L745.74,224.70 L746.62,224.71 L747.51,224.72 L748.39,224.74 L749.28,224.75 L750.16,224.76 L751.05,224.78 L751.93,224.79 L752.81,224.80 L753.70,224.82 L754.58,224.83 L755.47,224.84 L756.35,224.86 L757.23,224.87 L758.12,224.89 L759.00,224.90 L759.89,224.91 L760.77,224.93 L761.66,224.94 L762.54,224.96 L763.42,224.97 L764.31,224.98 L765.19,225.00 L766.08,225.01 L766.96,225.03 L767.85,225.04 L768.73,225.05 L769.62,225.07 L770.50,225.08 L771.39,225.10 L772.27,225.11 L773.15,225.13 L774.04,225.14 L774.92,225.16 L775.81,225.17 L776.69,225.18 L777.58,225.20 L778.46,225.21 L779.35,225.23 L780.23,225.24 L781.12,225.26 L782.00,225.27 L782.89,225.29 L783.77,225.30 L784.66,225.32 L785.54,225.33 L786.43,225.35 L787.31,225.37 L788.20,225.38 L789.08,225.40 L789.97,225.41 L790.85,225.43 L791.74,225.44 L792.62,225.46 L793.51,225.48 L794.39,225.49 L795.28,225.51 L796.17,225.52 L797.05,225.54 L797.94,225.56 L798.82,225.57 L799.71,225.59 L800.59,225.61 L801.48,225.62 L802.36,225.64 L803.25,225.66 L804.13,225.68 L805.02,225.69 L805.91,225.71 L806.79,225.73 L807.68,225.74 L808.56,225.76 L809.45,225.78" stroke="#ff0000" stroke-width="1.5" stroke-dasharray="3.3,4.5"/>
<path d="M197.20,52.02 L197.33,53.05 L197.47,54.07 L197.60,55.10 L197.74,56.13 L197.87,57.16 L198.01,58.18 L198.14,59.21 L198.28,60.24 L198.42,61.26 L198.56,62.29 L198.70,63.31 L198.84,64.34 L198.98,65.36 L199.12,66.39 L199.27,67.41 L199.41,68.43 L199.55,69.46 L199.70,70.48 L199.84,71.50 L199.99,72.53 L200.14,73.55 L200.29,74.57 L200.43,75.59 L200.58,76.61 L200.73,77.64 L200.89,78.66 L201.04,79.68 L201.19,80.70 L201.35,81.72 L201.50,82.74 L201.66,83.76 L201.81,84.78 L201.97,85.80 L202.13,86.82 L202.29,87.84 L202.45,88.86 L202.61,89.88 L202.77,90.90 L202.94,91.92 L203.10,92.94 L203.27,93.96 L203.43,94.98 L203.60,95.99 L203.77,97.01 L203.94,98.03 L204.11,99.05 L204.28,100.07 L204.46,101.09 L204.63,102.10 L204.81,103.12 L204.98,104.14 L205.16,105.16 L205.34,106.18 L205.52,107.19 L205.70,108.21 L205.88,109.23 L206.06,110.25 L206.25,111.26 L206.44,112.28 L206.62,113.30 L206.81,114.32 L207.00,115.34 L207.19,116.35 L207.38,117.37 L207.58,118.39 L207.77,119.41 L207.97,120.42 L208.17,121.44 L208.36,122.46 L208.56,123.48 L208.77,124.50 L208.97,125.51 L209.17,126.53 L209.38,127.55 L209.59,128.57 L209.80,129.59 L210.01,130.60 L210.22,131.62 L210.43,132.64 L210.64,133.66 L210.86,134.68 L211.08,135.70 L211.30,136.72 L211.52,137.74 L211.74,138.75 L211.97,139.77 L212.19,140.79 L212.43,141.81 L212.66,142.82 L212.90,143.84 L213.15,144.85 L213.40,145.86 L213.66,146.87 L213.93,147.88 L214.20,148.88 L214.48,149.88 L214.77,150.88 L215.06,151.87 L215.37,152.86 L215.69,153.85 L216.02,154.83 L216.35,155.81 L216.70,156.79 L217.06,157.76 L217.44,158.72 L217.83,159.68 L218.23,160.63 L218.64,161.58 L219.07,162.52 L219.51,163.46 L219.97,164.39 L220.44,165.31 L220.93,166.23 L221.43,167.14 L221.94,168.04 L222.46,168.94 L223.00,169.83 L223.55,170.71 L224.12,171.59 L224.69,172.46 L225.28,173.32 L225.88,174.18 L226.49,175.02 L227.11,175.86 L227.74,176.70 L228.39,177.52 L229.04,178.34 L229.71,179.15 L230.38,179.95 L231.07,180.75 L231.76,181.53 L232.46,182.31 L233.18,183.08 L233.90,183.84 L234.63,184.60 L235.37,185.34 L236.12,186.08 L236.87,186.80 L237.64,187.52 L238.41,188.23 L239.19,188.94 L239.97,189.63 L240.77,190.31 L241.56,190.98 L242.37,191.65 L243.18,192.30 L244.00,192.95 L244.82,193.59 L245.65,194.21 L246.49,194.83 L247.33,195.44 L248.17,196.04 L249.02,196.62 L249.88,197.20 L250.74,197.77 L251.60,198.33 L252.46,198.87 L253.33,199.41 L254.21,199.94 L255.09,200.46 L255.97,200.97 L256.86,201.46 L257.75,201.95 L258.64,202.44 L259.54,202.91 L260.44,203.37 L261.35,203.82 L262.26,204.27 L263.17,204.71 L264.08,205.13 L265.00,205.55 L265.93,205.96 L266.85,206.37 L267.78,206.76 L268.71,207.15 L269.65,207.52 L270.59,207.89 L271.53,208.26 L272.48,208.61 L273.43,208.96 L274.38,209.30 L275.33,209.63 L276.29,209.96 L277.25,210.27 L278.21,210.58 L279.18,210.89 L280.15,211.18 L281.12,211.47 L282.09,211.76 L283.07,212.04 L284.05,212.31 L285.03,212.57 L286.02,212.83 L287.00,213.08 L287.99,213.32 L288.98,213.56 L289.98,213.80 L290.97,214.03 L291.97,214.25 L292.97,214.46 L293.97,214.68 L294.98,214.88 L295.98,215.08 L296.99,215.28 L298.00,215.47 L299.01,215.65 L300.02,215.83 L301.04,216.01 L302.06,216.18 L303.07,216.35 L304.09,216.51 L305.12,216.67 L306.14,216.82 L307.16,216.97 L308.19,217.12 L309.22,217.26 L310.25,217.40 L311.28,217.53 L312.31,217.66 L313.34,217.79 L314.37,217.91 L315.41,218.03 L316.44,218.15 L317.48,218.26 L318.52,218.37 L319.56,218.48 L320.60,218.58 L321.64,218.69 L322.68,218.79 L323.72,218.88 L324.76,218.98 L325.80,219.07 L326.85,219.16 L327.89,219.25 L328.93,219.33 L329.98,219.42 L331.02,219.50 L332.07,219.58 L333.12,219.66 L334.16,219.74 L335.21,219.81 L336.25,219.89 L337.30,219.96 L338.35,220.03 L339.39,220.10 L340.44,220.17 L341.49,220.24 L342.53,220.31 L343.58,220.38 L344.63,220.45 L345.67,220.52 L346.72,220.58 L347.76,220.65 L348.81,220.72 L349.85,220.78 L350.90,220.85 L351.94,220.91 L352.98,220.98 L354.03,221.04 L355.07,221.10 L356.12,221.17 L357.16,221.23 L358.20,221.29 L359.24,221.35 L360.29,221.41 L361.33,221.47 L362.37,221.53 L363.41,221.59 L364.45,221.65 L365.50,221.71 L366.54,221.77 L367.58,221.83 L368.62,221.89 L369.66,221.94 L370.70,222.00 L371.74,222.06 L372.78,222.11 L373.82,222.17 L374.86,222.22 L375.90,222.28 L376.94,222.33 L377.98,222.39 L379.02,222.44 L380.06,222.49 L381.10,222.55 L382.13,222.60 L383.17,222.65 L384.21,222.70 L385.25,222.75 L386.29,222.81 L387.32,222.86 L388.36,222.91 L389.40,222.96 L390.44,223.01 L391.47,223.05 L392.51,223.10 L393.55,223.15 L394.58,223.20 L395.62,223.25 L396.66,223.29 L397.69,223.34 L398.73,223.39 L399.77,223.43 L400.80,223.48 L401.84,223.52 L402.87,223.57 L403.91,223.61 L404.94,223.66 L405.98,223.70 L407.01,223.75 L408.05,223.79 L409.08,223.83 L410.12,223.87 L411.15,223.92 L412.19,223.96 L413.22,224.00 L414.26,224.04 L415.29,224.08 L416.32,224.12 L417.36,224.16 L418.39,224.20 L419.42,224.24 L420.46,224.28 L421.49,224.32 L422.53,224.36 L423.56,224.40 L424.59,224.44 L425.63,224.47 L426.66,224.51 L427.69,224.55 L428.72,224.59 L429.76,224.62 L430.79,224.66 L431.82,224.70 L432.85,224.73 L433.89,224.77 L434.92,224.80 L435.95,224.84 L436.98,224.87 L438.02,224.91 L439.05,224.94 L440.08,224.97 L441.11,225.01 L442.15,225.04 L443.18,225.07 L444.21,225.11 L445.24,225.14 L446.27,225.17 L447.30,225.20 L448.34,225.23 L449.37,225.26 L450.40,225.30 L451.43,225.33 L452.46,225.36 L453.49,225.39 L454.53,225.42 L455.56,225.45 L456.59,225.48 L457.62,225.51 L458.65,225.54 L459.68,225.56 L460.71,225.59 L461.75,225.62 L462.78,225.65 L463.81,225.68 L464.84,225.71 L465.87,225.73 L466.90,225.76 L467.93,225.79 L468.96,225.81 L470.00,225.84 L471.03,225.87 L472.06,225.89 L473.09,225.92 L474.12,225.95 L475.15,225.97 L476.18,226.00 L477.21,226.02 L478.25,226.05 L479.28,226.07 L480.31,226.10 L481.34,226.12 L482.37,226.14 L483.40,226.17 L484.43,226.19 L485.47,226.22 L486.50,226.24 L487.53,226.26 L488.56,226.29 L489.59,226.31 L490.62,226.33 L491.65,226.35 L492.69,226.38 L493.72,226.40 L494.75,226.42 L495.78,226.44 L496.81,226.46 L497.85,226.49 L498.88,226.51 L499.91,226.53 L500.94,226.55 L501.97,226.57 L503.01,226.59 L504.04,226.61 L505.07,226.63 L506.10,226.65 L507.14,226.67 L508.17,226.69 L509.20,226.71 L510.23,226.73 L511.27,226.75 L512.30,226.77 L513.33,226.79 L514.36,226.81 L515.40,226.83 L516.43,226.85 L517.46,226.87 L518.50,226.89 L519.53,226.91 L520.56,226.92 L521.60,226.94 L522.63,226.96 L523.66,226.98 L524.70,227.00 L525.73,227.01 L526.76,227.03 L527.80,227.05 L528.83,227.07 L529.86,227.08 L530.90,227.10 L531.93,227.12 L532.97,227.14 L534.00,227.15 L535.03,227.17 L536.07,227.19 L537.10,227.20 L538.14,227.22 L539.17,227.23 L540.20,227.25 L541.24,227.27 L542.27,227.28 L543.31,227.30 L544.34,227.31 L545.38,227.33 L546.41,227.35 L547.44,227.36 L548.48,227.38 L549.51,227.39 L550.55,227.41 L551.58,227.42 L552.62,227.44 L553.65,227.45 L554.69,227.46 L555.72,227.48 L556.76,227.49 L557.79,227.51 L558.83,227.52 L559.86,227.54 L560.90,227.55 L561.93,227.56 L562.97,227.58 L564.00,227.59 L565.04,227.60 L566.07,227.62 L567.11,227.63 L568.14,227.64 L569.18,227.66 L570.21,227.67 L571.25,227.68 L572.29,227.70 L573.32,227.71 L574.36,227.72 L575.39,227.73 L576.43,227.75 L577.46,227.76 L578.50,227.77 L579.53,227.78 L580.57,227.80 L581.61,227.81 L582.64,227.82 L583.68,227.83 L584.71,227.84 L585.75,227.86 L586.78,227.87 L587.82,227.88 L588.86,227.89 L589.89,227.90 L590.93,227.91 L591.96,227.93 L593.00,227.94 L594.04,227.95 L595.07,227.96 L596.11,227.97 L597.14,227.98 L598.18,227.99 L599.22,228.00 L600.25,228.01 L601.29,228.02 L602.33,228.03 L603.36,228.05 L604.40,228.06 L605.43,228.07 L606.47,228.08 L607.51,228.09 L608.54,228.10 L609.58,228.11 L610.62,228.12 L611.65,228.13 L612.69,228.14 L613.72,228.15 L614.76,228.16 L615.80,228.17 L616.83,228.18 L617.87,228.19 L618.91,228.20 L619.94,228.21 L620.98,228.22 L622.02,228.22 L623.05,228.23 L624.09,228.24 L625.13,228.25 L626.16,228.26 L627.20,228.27 L628.23,228.28 L629.27,228.29 L630.31,228.30 L631.34,228.31 L632.38,228.32 L633.42,228.33 L634.45,228.34 L635.49,228.34 L636.53,228.35 L637.56,228.36 L638.60,228.37 L639.64,228.38 L640.67,228.39 L641.71,228.40 L642.75,228.41 L643.78,228.41 L644.82,228.42 L645.86,228.43 L646.89,228.44 L647.93,228.45 L648.97,228.46 L650.00,228.46 L651.04,228.47 L652.08,228.48 L653.11,228.49 L654.15,228.50 L655.19,228.51 L656.22,228.52 L657.26,228.52 L658.29,228.53 L659.33,228.54 L660.37,228.55 L661.40,228.56 L662.44,228.56 L663.48,228.57 L664.51,228.58 L665.55,228.59 L666.59,228.60 L667.62,228.60 L668.66,228.61 L669.70,228.62 L670.73,228.63 L671.77,228.64 L672.81,228.64 L673.84,228.65 L674.88,228.66 L675.91,228.67 L676.95,228.68 L677.99,228.68 L679.02,228.69 L680.06,228.70 L681.10,228.71 L682.13,228.72 L683.17,228.72 L684.20,228.73 L685.24,228.74 L686.28,228.75 L687.31,228.76 L688.35,228.76 L689.39,228.77 L690.42,228.78 L691.46,228.79 L692.49,228.80 L693.53,228.80 L694.57,228.81 L695.60,228.82 L696.64,228.83 L697.67,228.84 L698.71,228.84 L699.75,228.85 L700.78,228.86 L701.82,228.87 L702.85,228.88 L703.89,228.88 L704.92,228.89 L705.96,228.90 L707.00,228.91 L708.03,228.92 L709.07,228.93 L710.10,228.93 L711.14,228.94 L712.17,228.95 L713.21,228.96 L714.24,228.97 L715.28,228.97 L716.32,228.98 L717.35,228.99 L718.39,229.00 L719.42,229.01 L720.46,229.02 L721.49,229.02 L722.53,229.03 L723.56,229.04 L724.60,229.05 L725.63,229.06 L726.67,229.07 L727.70,229.08 L728.74,229.08 L729.77,229.09 L730.81,229.10 L731.84,229.11 L732.88,229.12 L733.91,229.13 L734.95,229.14 L735.98,229.15 L737.02,229.16 L738.05,229.16 L739.08,229.17 L740.12,229.18 L741.15,229.19 L742.19,229.20 L743.22,229.21 L744.26,229.22 L745.29,229.23 L746.33,229.24 L747.36,229.25 L748.39,229.26 L749.43,229.27 L750.46,229.28 L751.50,229.29 L752.53,229.30 L753.56,229.31 L754.60,229.32 L755.63,229.33 L756.67,229.34 L757.70,229.35 L758.73,229.36 L759.77,229.37 L760.80,229.38 L761.83,229.39 L762.87,229.40 L763.90,229.41 L764.93,229.42 L765.97,229.43 L767.00,229.44 L768.03,229.45 L769.07,229.46 L770.10,229.47 L771.13,229.48 L772.17,229.49 L773.20,229.50 L774.23,229.51 L775.26,229.52 L776.30,229.54 L777.33,229.55 L778.36,229.56 L779.39,229.57 L780.43,229.58 L781.46,229.59 L782.49,229.60 L783.52,229.62 L784.56,229.63 L785.59,229.64 L786.62,229.65 L787.65,229.66 L788.68,229.68 L789.72,229.69 L790.75,229.70 L791.78,229.71 L792.81,229.72 L793.84,229.74 L794.87,229.75 L795.91,229.76 L796.94,229.78 L797.97,229.79 L799.00,229.80 L800.03,229.81 L801.06,229.83 L802.09,229.84 L803.12,229.85 L804.15,229.87 L805.18,229.88 L806.22,229.89 L807.25,229.91 L808.28,229.92 L809.31,229.94" stroke="#00008b" stroke-width="1.5" stroke-dasharray="3.3,4.5"/>
<path d="M156.62,51.97 L156.69,53.11 L156.76,54.25 L156.83,55.38 L156.90,56.52 L156.97,57.65 L157.04,58.78 L157.11,59.91 L157.18,61.04 L157.26,62.17 L157.33,63.29 L157.40,64.42 L157.47,65.54 L157.55,66.66 L157.62,67.79 L157.69,68.91 L157.77,70.03 L157.84,71.15 L157.92,72.26 L158.00,73.38 L158.07,74.50 L158.15,75.61 L158.23,76.73 L158.31,77.84 L158.39,78.95 L158.47,80.06 L158.55,81.17 L158.63,82.28 L158.72,83.39 L158.80,84.50 L158.89,85.61 L158.97,86.72 L159.06,87.83 L159.15,88.93 L159.23,90.04 L159.32,91.15 L159.41,92.25 L159.50,93.36 L159.60,94.46 L159.69,95.57 L159.79,96.67 L159.88,97.77 L159.98,98.88 L160.08,99.98 L160.17,101.08 L160.28,102.19 L160.38,103.29 L160.48,104.39 L160.58,105.49 L160.69,106.60 L160.80,107.70 L160.90,108.80 L161.01,109.90 L161.12,111.01 L161.24,112.11 L161.35,113.21 L161.46,114.32 L161.58,115.42 L161.70,116.52 L161.82,117.63 L161.94,118.73 L162.06,119.83 L162.19,120.94 L162.31,122.04 L162.44,123.15 L162.57,124.25 L162.70,125.36 L162.83,126.47 L162.97,127.58 L163.10,128.68 L163.24,129.79 L163.38,130.90 L163.52,132.01 L163.66,133.12 L163.81,134.23 L163.96,135.34 L164.11,136.46 L164.26,137.57 L164.41,138.68 L164.56,139.80 L164.72,140.91 L164.88,142.03 L165.04,143.15 L165.20,144.27 L165.37,145.39 L165.53,146.51 L165.70,147.63 L165.87,148.75 L166.05,149.88 L166.22,151.00 L166.40,152.13 L166.59,153.25 L166.77,154.38 L166.96,155.50 L167.16,156.62 L167.36,157.75 L167.57,158.87 L167.78,159.99 L168.00,161.11 L168.23,162.22 L168.46,163.34 L168.71,164.45 L168.96,165.56 L169.22,166.66 L169.49,167.76 L169.77,168.86 L170.06,169.95 L170.36,171.03 L170.68,172.12 L171.00,173.19 L171.34,174.26 L171.69,175.33 L172.05,176.38 L172.43,177.44 L172.82,178.48 L173.23,179.52 L173.65,180.55 L174.09,181.57 L174.54,182.58 L175.01,183.59 L175.50,184.58 L176.00,185.57 L176.52,186.55 L177.06,187.52 L177.62,188.48 L178.19,189.42 L178.78,190.36 L179.39,191.29 L180.01,192.20 L180.65,193.11 L181.30,194.00 L181.97,194.88 L182.66,195.75 L183.36,196.61 L184.07,197.45 L184.80,198.28 L185.55,199.10 L186.31,199.90 L187.08,200.69 L187.87,201.47 L188.67,202.23 L189.48,202.98 L190.31,203.71 L191.15,204.43 L192.01,205.13 L192.87,205.81 L193.75,206.48 L194.65,207.14 L195.55,207.78 L196.47,208.40 L197.40,209.00 L198.34,209.59 L199.29,210.15 L200.25,210.70 L201.23,211.24 L202.21,211.75 L203.21,212.25 L204.21,212.72 L205.23,213.18 L206.25,213.62 L207.28,214.05 L208.33,214.45 L209.38,214.85 L210.43,215.22 L211.50,215.58 L212.57,215.93 L213.64,216.27 L214.72,216.59 L215.81,216.90 L216.90,217.20 L217.99,217.48 L219.09,217.76 L220.19,218.02 L221.30,218.28 L222.40,218.53 L223.51,218.77 L224.61,219.00 L225.72,219.22 L226.83,219.44 L227.94,219.65 L229.04,219.86 L230.15,220.06 L231.26,220.25 L232.37,220.44 L233.48,220.62 L234.59,220.79 L235.70,220.96 L236.81,221.13 L237.92,221.29 L239.03,221.44 L240.14,221.59 L241.25,221.74 L242.36,221.88 L243.47,222.02 L244.58,222.15 L245.69,222.28 L246.80,222.41 L247.91,222.53 L249.03,222.65 L250.14,222.77 L251.25,222.89 L252.36,223.00 L253.48,223.11 L254.59,223.21 L255.70,223.32 L256.82,223.42 L257.93,223.52 L259.04,223.62 L260.16,223.71 L261.27,223.81 L262.39,223.90 L263.50,223.99 L264.62,224.07 L265.73,224.16 L266.85,224.24 L267.96,224.33 L269.08,224.41 L270.19,224.48 L271.31,224.56 L272.42,224.64 L273.54,224.71 L274.66,224.78 L275.77,224.85 L276.89,224.92 L278.01,224.99 L279.12,225.06 L280.24,225.12 L281.36,225.19 L282.47,225.25 L283.59,225.31 L284.71,225.37 L285.82,225.43 L286.94,225.49 L288.06,225.55 L289.17,225.61 L290.29,225.66 L291.41,225.72 L292.52,225.78 L293.64,225.83 L294.76,225.89 L295.88,225.94 L296.99,225.99 L298.11,226.05 L299.23,226.10 L300.35,226.15 L301.46,226.20 L302.58,226.25 L303.70,226.30 L304.82,226.35 L305.93,226.40 L307.05,226.45 L308.17,226.49 L309.29,226.54 L310.40,226.59 L311.52,226.63 L312.64,226.68 L313.76,226.72 L314.87,226.77 L315.99,226.81 L317.11,226.85 L318.23,226.90 L319.34,226.94 L320.46,226.98 L321.58,227.02 L322.70,227.06 L323.82,227.10 L324.93,227.14 L326.05,227.18 L327.17,227.22 L328.29,227.26 L329.41,227.30 L330.52,227.33 L331.64,227.37 L332.76,227.41 L333.88,227.44 L335.00,227.48 L336.11,227.51 L337.23,227.55 L338.35,227.58 L339.47,227.61 L340.59,227.65 L341.70,227.68 L342.82,227.71 L343.94,227.74 L345.06,227.77 L346.18,227.80 L347.30,227.84 L348.41,227.87 L349.53,227.90 L350.65,227.92 L351.77,227.95 L352.89,227.98 L354.01,228.01 L355.12,228.04 L356.24,228.06 L357.36,228.09 L358.48,228.12 L359.60,228.14 L360.72,228.17 L361.83,228.19 L362.95,228.22 L364.07,228.24 L365.19,228.27 L366.31,228.29 L367.43,228.32 L368.55,228.34 L369.66,228.36 L370.78,228.38 L371.90,228.41 L373.02,228.43 L374.14,228.45 L375.26,228.47 L376.38,228.49 L377.49,228.51 L378.61,228.53 L379.73,228.55 L380.85,228.57 L381.97,228.59 L383.09,228.61 L384.21,228.63 L385.33,228.65 L386.44,228.66 L387.56,228.68 L388.68,228.70 L389.80,228.72 L390.92,228.73 L392.04,228.75 L393.16,228.77 L394.28,228.78 L395.39,228.80 L396.51,228.81 L397.63,228.83 L398.75,228.84 L399.87,228.86 L400.99,228.87 L402.11,228.89 L403.23,228.90 L404.35,228.92 L405.46,228.93 L406.58,228.94 L407.70,228.96 L408.82,228.97 L409.94,228.98 L411.06,229.00 L412.18,229.01 L413.30,229.02 L414.42,229.03 L415.54,229.04 L416.65,229.06 L417.77,229.07 L418.89,229.08 L420.01,229.09 L421.13,229.10 L422.25,229.11 L423.37,229.12 L424.49,229.13 L425.61,229.14 L426.73,229.15 L427.84,229.16 L428.96,229.17 L430.08,229.18 L431.20,229.19 L432.32,229.20 L433.44,229.21 L434.56,229.22 L435.68,229.23 L436.80,229.24 L437.92,229.25 L439.03,229.25 L440.15,229.26 L441.27,229.27 L442.39,229.28 L443.51,229.29 L444.63,229.30 L445.75,229.30 L446.87,229.31 L447.99,229.32 L449.11,229.33 L450.23,229.34 L451.34,229.34 L452.46,229.35 L453.58,229.36 L454.70,229.37 L455.82,229.37 L456.94,229.38 L458.06,229.39 L459.18,229.40 L460.30,229.40 L461.42,229.41 L462.54,229.42 L463.65,229.42 L464.77,229.43 L465.89,229.44 L467.01,229.45 L468.13,229.45 L469.25,229.46 L470.37,229.47 L471.49,229.47 L472.61,229.48 L473.73,229.49 L474.85,229.49 L475.96,229.50 L477.08,229.51 L478.20,229.52 L479.32,229.52 L480.44,229.53 L481.56,229.54 L482.68,229.54 L483.80,229.55 L484.92,229.56 L486.04,229.56 L487.15,229.57 L488.27,229.58 L489.39,229.58 L490.51,229.59 L491.63,229.60 L492.75,229.60 L493.87,229.61 L494.99,229.62 L496.11,229.63 L497.23,229.63 L498.34,229.64 L499.46,229.65 L500.58,229.65 L501.70,229.66 L502.82,229.67 L503.94,229.67 L505.06,229.68 L506.18,229.69 L507.30,229.69 L508.41,229.70 L509.53,229.71 L510.65,229.71 L511.77,229.72 L512.89,229.72 L514.01,229.73 L515.13,229.74 L516.25,229.74 L517.37,229.75 L518.49,229.76 L519.60,229.76 L520.72,229.77 L521.84,229.78 L522.96,229.78 L524.08,229.79 L525.20,229.80 L526.32,229.80 L527.44,229.81 L528.56,229.81 L529.67,229.82 L530.79,229.83 L531.91,229.83 L533.03,229.84 L534.15,229.85 L535.27,229.85 L536.39,229.86 L537.51,229.86 L538.63,229.87 L539.75,229.88 L540.86,229.88 L541.98,229.89 L543.10,229.90 L544.22,229.90 L545.34,229.91 L546.46,229.91 L547.58,229.92 L548.70,229.93 L549.82,229.93 L550.93,229.94 L552.05,229.94 L553.17,229.95 L554.29,229.96 L555.41,229.96 L556.53,229.97 L557.65,229.97 L558.77,229.98 L559.89,229.99 L561.00,229.99 L562.12,230.00 L563.24,230.00 L564.36,230.01 L565.48,230.01 L566.60,230.02 L567.72,230.03 L568.84,230.03 L569.95,230.04 L571.07,230.04 L572.19,230.05 L573.31,230.05 L574.43,230.06 L575.55,230.07 L576.67,230.07 L577.79,230.08 L578.91,230.08 L580.02,230.09 L581.14,230.09 L582.26,230.10 L583.38,230.11 L584.50,230.11 L585.62,230.12 L586.74,230.12 L587.86,230.13 L588.98,230.13 L590.09,230.14 L591.21,230.14 L592.33,230.15 L593.45,230.15 L594.57,230.16 L595.69,230.16 L596.81,230.17 L597.93,230.17 L599.05,230.18 L600.16,230.19 L601.28,230.19 L602.40,230.20 L603.52,230.20 L604.64,230.21 L605.76,230.21 L606.88,230.22 L608.00,230.22 L609.11,230.23 L610.23,230.23 L611.35,230.24 L612.47,230.24 L613.59,230.25 L614.71,230.25 L615.83,230.26 L616.95,230.26 L618.07,230.27 L619.18,230.27 L620.30,230.28 L621.42,230.28 L622.54,230.28 L623.66,230.29 L624.78,230.29 L625.90,230.30 L627.02,230.30 L628.14,230.31 L629.25,230.31 L630.37,230.32 L631.49,230.32 L632.61,230.33 L633.73,230.33 L634.85,230.34 L635.97,230.34 L637.09,230.35 L638.20,230.35 L639.32,230.35 L640.44,230.36 L641.56,230.36 L642.68,230.37 L643.80,230.37 L644.92,230.38 L646.04,230.38 L647.16,230.38 L648.27,230.39 L649.39,230.39 L650.51,230.40 L651.63,230.40 L652.75,230.41 L653.87,230.41 L654.99,230.41 L656.11,230.42 L657.23,230.42 L658.34,230.43 L659.46,230.43 L660.58,230.43 L661.70,230.44 L662.82,230.44 L663.94,230.45 L665.06,230.45 L666.18,230.45 L667.29,230.46 L668.41,230.46 L669.53,230.47 L670.65,230.47 L671.77,230.47 L672.89,230.48 L674.01,230.48 L675.13,230.48 L676.25,230.49 L677.36,230.49 L678.48,230.50 L679.60,230.50 L680.72,230.50 L681.84,230.51 L682.96,230.51 L684.08,230.51 L685.20,230.52 L686.32,230.52 L687.43,230.52 L688.55,230.53 L689.67,230.53 L690.79,230.53 L691.91,230.54 L693.03,230.54 L694.15,230.54 L695.27,230.55 L696.39,230.55 L697.50,230.55 L698.62,230.56 L699.74,230.56 L700.86,230.56 L701.98,230.57 L703.10,230.57 L704.22,230.57 L705.34,230.57 L706.46,230.58 L707.57,230.58 L708.69,230.58 L709.81,230.59 L710.93,230.59 L712.05,230.59 L713.17,230.59 L714.29,230.60 L715.41,230.60 L716.53,230.60 L717.64,230.61 L718.76,230.61 L719.88,230.61 L721.00,230.61 L722.12,230.62 L723.24,230.62 L724.36,230.62 L725.48,230.62 L726.60,230.63 L727.72,230.63 L728.83,230.63 L729.95,230.63 L731.07,230.64 L732.19,230.64 L733.31,230.64 L734.43,230.64 L735.55,230.64 L736.67,230.65 L737.79,230.65 L738.90,230.65 L740.02,230.65 L741.14,230.66 L742.26,230.66 L743.38,230.66 L744.50,230.66 L745.62,230.66 L746.74,230.67 L747.86,230.67 L748.98,230.67 L750.09,230.67 L751.21,230.67 L752.33,230.68 L753.45,230.68 L754.57,230.68 L755.69,230.68 L756.81,230.68 L757.93,230.68 L759.05,230.69 L760.17,230.69 L761.28,230.69 L762.40,230.69 L763.52,230.69 L764.64,230.69 L765.76,230.69 L766.88,230.70 L768.00,230.70 L769.12,230.70 L770.24,230.70 L771.36,230.70 L772.47,230.70 L773.59,230.70 L774.71,230.70 L775.83,230.71 L776.95,230.71 L778.07,230.71 L779.19,230.71 L780.31,230.71 L781.43,230.71 L782.55,230.71 L783.67,230.71 L784.78,230.71 L785.90,230.71 L787.02,230.72 L788.14,230.72 L789.26,230.72 L790.38,230.72 L791.50,230.72 L792.62,230.72 L793.74,230.72 L794.86,230.72 L795.98,230.72 L797.09,230.72 L798.21,230.72 L799.33,230.72 L800.45,230.72 L801.57,230.72 L802.69,230.72 L803.81,230.72 L804.93,230.72 L806.05,230.72 L807.17,230.72 L808.29,230.72 L809.41,230.73" stroke="#228b22" stroke-width="1.5" stroke-dasharray="3.3,4.5"/>
</g>
<rect x="115.50" y="52.00" width="698.50" height="454.00" stroke="#000" stroke-width="1" fill="none"/>
<path d="M717.3,350.40 H785.4" stroke="#0000ff" stroke-width="2.7" fill="none"/>
<path d="M717.3,382.70 H785.4" stroke="#ff0000" stroke-width="2.7" fill="none"/>
<path d="M717.3,414.95 H785.4" stroke="#ff0000" stroke-width="1.45" fill="none"/>
<path d="M717.3,447.35 H785.4" stroke="#00008b" stroke-width="1.45" fill="none"/>
<path d="M717.3,479.60 H785.4" stroke="#228b22" stroke-width="1.45" fill="none"/>
<g font-family="Liberation Sans, sans-serif" font-size="26" fill="#000" stroke="#000" stroke-width="0.4" stroke-linejoin="round">
<text x="102.0" y="62.00" text-anchor="end">0.2</text>
<text x="102.0" y="107.40" text-anchor="end">0.15</text>
<text x="102.0" y="152.80" text-anchor="end">0.1</text>
<text x="102.0" y="198.20" text-anchor="end">0.05</text>
<text x="102.0" y="243.60" text-anchor="end">0</text>
<text x="102.0" y="289.00" text-anchor="end">-0.05</text>
<text x="102.0" y="334.40" text-anchor="end">-0.1</text>
<text x="102.0" y="379.80" text-anchor="end">-0.15</text>
<text x="102.0" y="425.20" text-anchor="end">-0.2</text>
<text x="102.0" y="470.60" text-anchor="end">-0.25</text>
<text x="102.0" y="516.00" text-anchor="end">-0.3</text>
<text x="119.10" y="541.8" text-anchor="middle">0</text>
<text x="235.52" y="541.8" text-anchor="middle">0.5</text>
<text x="351.93" y="541.8" text-anchor="middle">1</text>
<text x="468.35" y="541.8" text-anchor="middle">1.5</text>
<text x="584.77" y="541.8" text-anchor="middle">2</text>
<text x="701.18" y="541.8" text-anchor="middle">2.5</text>
<text x="817.60" y="541.8" text-anchor="middle">3</text>
<text x="702.75" y="359.85" text-anchor="end">140MeV</text>
<text x="584.2" y="359.85">=</text>
<text x="488.2" y="359.85">QM: m</text>
<text x="567.2" y="365.6" font-size="18.8">π</text>
<text x="702.75" y="392.35" text-anchor="end">170MeV</text>
<text x="703.3" y="424.75" text-anchor="end">X = 1</text>
<text x="703.3" y="457.1" text-anchor="end">2</text>
<text x="703.3" y="489.4" text-anchor="end">4</text>
<text transform="translate(353.50,581.20) scale(1.09,1)" font-style="italic">μ</text>
<text x="369.20" y="585.40" font-size="20.6">I</text>
<text x="382.00" y="581.20">=</text>
<text transform="translate(403.80,581.20) scale(1.09,1)" font-style="italic">μ</text>
<text x="418.60" y="585.40" font-size="20.6">u</text>
<text x="437.50" y="581.20">=</text>
<text x="460.20" y="581.20">-</text>
<text transform="translate(475.50,581.20) scale(1.09,1)" font-style="italic">μ</text>
<text x="490.80" y="585.40" font-size="20.6">d</text>
<text x="509.20" y="581.20">[GeV]</text>
<g transform="translate(29.6,294.6) rotate(-90)"><text x="0" y="0" font-size="27.3">Δ</text><text x="18.2" y="6.1" font-size="20.6">tr</text></g>
</g>
</svg>
</body></html>
